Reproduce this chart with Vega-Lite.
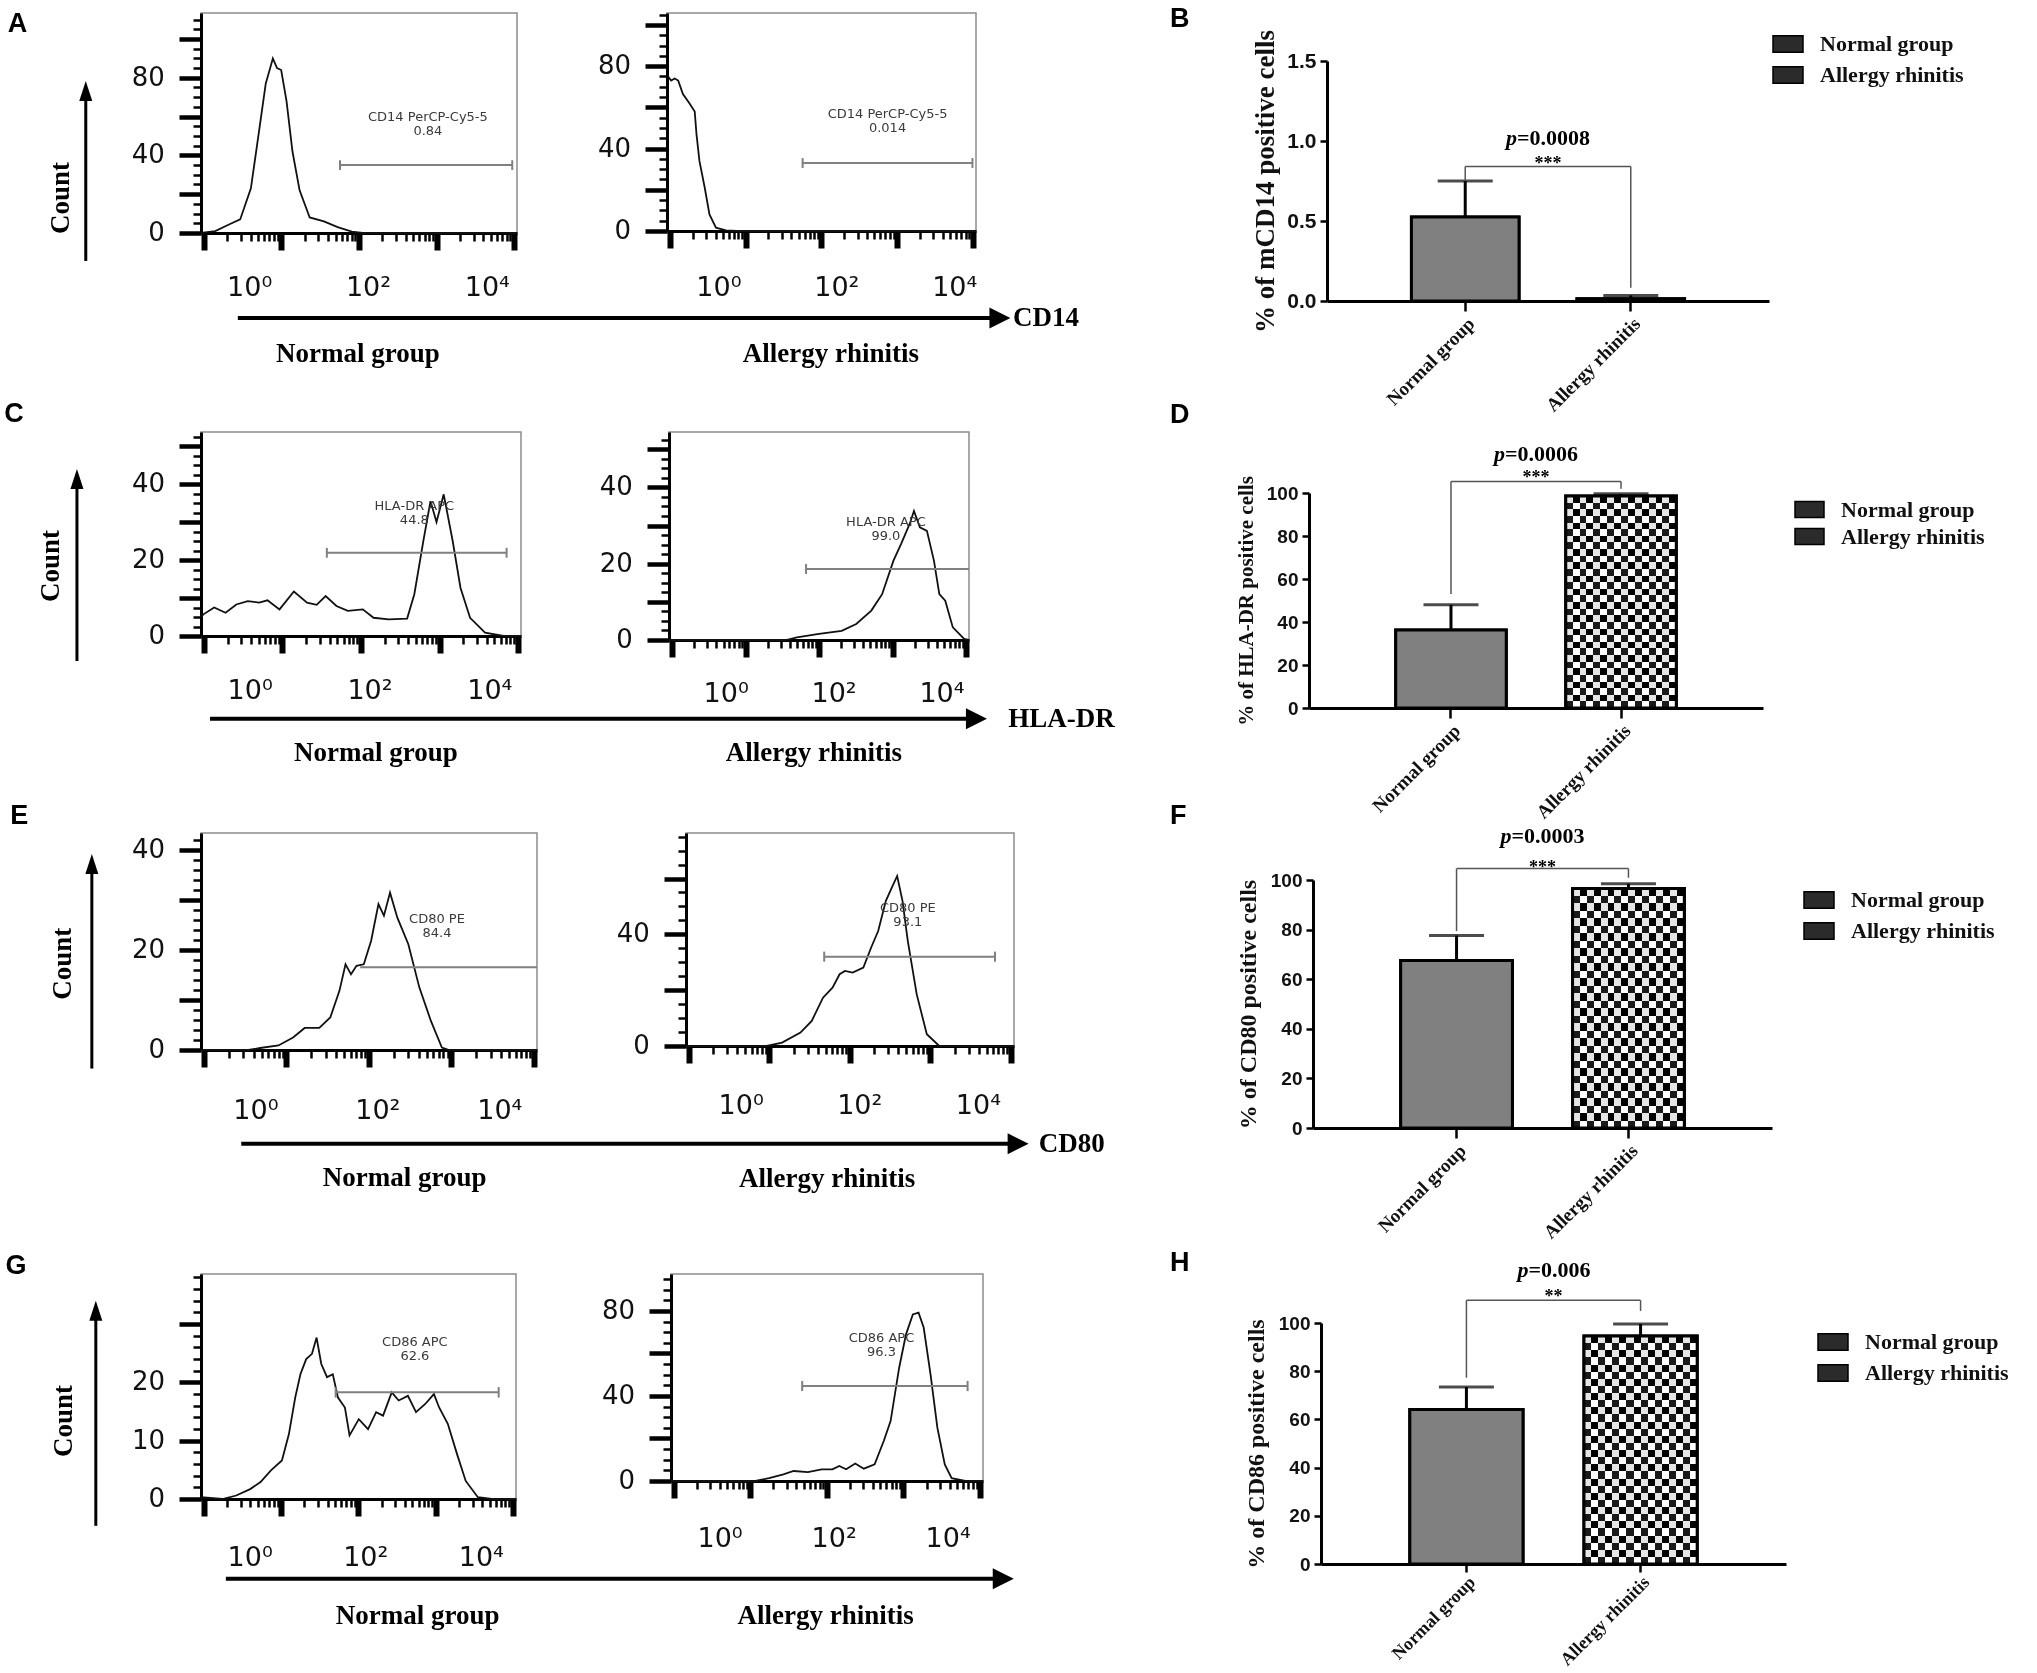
{
  "$schema": "https://vega.github.io/schema/vega-lite/v6.json",
  "background": "white",
  "padding": {"left": 3, "top": 5, "right": 5, "bottom": 0},
  "config": {"view": {"stroke": null}},
  "bounds": "flush",
  "spacing": 419,
  "resolve": {"scale": {"fill": "independent"}, "legend": {"fill": "independent"}},
  "vconcat": [
    {
      "hconcat": [
        {
          "width": 316, "height": 220,
          "view": {"stroke": "#8c8c8c", "strokeWidth": 1.5},
          "layer": [
            {
              "data": {"values": [
                {"u": -0.82, "c": 0}, {"u": -0.58, "c": 1}, {"u": -0.34, "c": 4.5}, {"u": -0.16, "c": 7},
                {"u": 0.02, "c": 23}, {"u": 0.15, "c": 51}, {"u": 0.27, "c": 77}, {"u": 0.39, "c": 90},
                {"u": 0.46, "c": 85}, {"u": 0.53, "c": 84}, {"u": 0.62, "c": 68}, {"u": 0.72, "c": 42},
                {"u": 0.84, "c": 22}, {"u": 1.01, "c": 8}, {"u": 1.25, "c": 6}, {"u": 1.48, "c": 3},
                {"u": 1.72, "c": 0.7}, {"u": 1.9, "c": 0}, {"u": 4.5, "c": 0}
              ]},
              "mark": {"type": "line", "color": "#111111", "strokeWidth": 1.8},
              "encoding": {
                "x": {"field": "u", "type": "quantitative", "scale": {"domain": [-0.82, 4.5], "nice": false, "zero": false},
                  "axis": {"values": [-0.77,-0.377,-0.147,0.016,0.142,0.245,0.333,0.409,0.475,0.535,0.928,1.158,1.321,1.447,1.55,1.638,1.714,1.78,1.84,2.233,2.463,2.626,2.752,2.855,2.943,3.019,3.085,3.145,3.538,3.768,3.931,4.057,4.16,4.248,4.324,4.39,4.45],
                    "tickCount": 500, "labels": false, "title": null, "grid": false, "domainColor": "#000", "domainWidth": 3, "tickColor": "#000",
                    "tickSize": {"condition": {"test": "indexof([-0.77,0.535,1.84,3.145,4.45], datum.value) >= 0", "value": 17}, "value": 8},
                    "tickWidth": {"condition": {"test": "indexof([-0.77,0.535,1.84,3.145,4.45], datum.value) >= 0", "value": 6}, "value": 2.5}}},
                "y": {"field": "c", "type": "quantitative", "scale": {"domain": [0, 113.4], "nice": false},
                  "axis": {"values": [0,5,10,15,20,25,30,35,40,45,50,55,60,65,70,75,80,85,90,95,100,105,110],
                    "tickCount": 500, "labels": false, "title": null, "grid": false, "domainColor": "#000", "domainWidth": 3, "tickColor": "#000",
                    "tickSize": {"condition": {"test": "datum.value % 20 === 0", "value": 22}, "value": 8},
                    "tickWidth": {"condition": {"test": "datum.value % 20 === 0", "value": 4.5}, "value": 2.5}}}
              }
            },
            {"data": {"values": [{}]}, "mark": {"type": "text", "font": "DejaVu Sans", "fontSize": 27, "color": "#111", "baseline": "middle"}, "encoding": {"x": {"datum": 0}, "y": {"datum": -28.4}, "text": {"value": "10\u2070"}}},
            {"data": {"values": [{}]}, "mark": {"type": "text", "font": "DejaVu Sans", "fontSize": 27, "color": "#111", "baseline": "middle"}, "encoding": {"x": {"datum": 2}, "y": {"datum": -28.4}, "text": {"value": "10\u00b2"}}},
            {"data": {"values": [{}]}, "mark": {"type": "text", "font": "DejaVu Sans", "fontSize": 27, "color": "#111", "baseline": "middle"}, "encoding": {"x": {"datum": 4}, "y": {"datum": -28.4}, "text": {"value": "10\u2074"}}},
            {"data": {"values": [{}]}, "mark": {"type": "text", "font": "DejaVu Sans", "fontSize": 26, "color": "#111", "align": "right", "baseline": "middle"}, "encoding": {"x": {"datum": -1.43}, "y": {"datum": 0}, "text": {"value": "0"}}},
            {"data": {"values": [{}]}, "mark": {"type": "text", "font": "DejaVu Sans", "fontSize": 26, "color": "#111", "align": "right", "baseline": "middle"}, "encoding": {"x": {"datum": -1.43}, "y": {"datum": 40}, "text": {"value": "40"}}},
            {"data": {"values": [{}]}, "mark": {"type": "text", "font": "DejaVu Sans", "fontSize": 26, "color": "#111", "align": "right", "baseline": "middle"}, "encoding": {"x": {"datum": -1.43}, "y": {"datum": 80}, "text": {"value": "80"}}},
            {"data": {"values": [{}]}, "mark": {"type": "rule", "color": "#808080", "strokeWidth": 2}, "encoding": {"x": {"datum": 1.52}, "x2": {"datum": 4.42}, "y": {"datum": 35}}},
            {"data": {"values": [{}]}, "mark": {"type": "rule", "color": "#808080", "strokeWidth": 2}, "encoding": {"x": {"datum": 1.52}, "y": {"datum": 32.5}, "y2": {"datum": 37.5}}},
            {"data": {"values": [{}]}, "mark": {"type": "rule", "color": "#808080", "strokeWidth": 2}, "encoding": {"x": {"datum": 4.42}, "y": {"datum": 32.5}, "y2": {"datum": 37.5}}},
            {"data": {"values": [{}]}, "mark": {"type": "text", "font": "DejaVu Sans", "fontSize": 13, "color": "#3a3a3a", "lineHeight": 14, "baseline": "middle"}, "encoding": {"x": {"datum": 3.0}, "y": {"datum": 60}, "text": {"value": ["CD14 PerCP-Cy5-5", "0.84"]}}},
            {"data": {"values": [{}]}, "mark": {"type": "text", "font": "Liberation Sans", "fontSize": 27, "fontWeight": "bold", "baseline": "middle"}, "encoding": {"x": {"datum": -3.91}, "y": {"datum": 107.8}, "text": {"value": "A"}}},
            {"data": {"values": [{}]}, "mark": {"type": "rule", "color": "#000", "strokeWidth": 3}, "encoding": {"x": {"datum": -2.76}, "y": {"datum": -14.4}, "y2": {"datum": 73.2}}},
            {"data": {"values": [{}]}, "mark": {"type": "point", "shape": "M0,-1L0.65,1L-0.65,1Z", "size": 400, "filled": true, "color": "#000", "opacity": 1}, "encoding": {"x": {"datum": -2.76}, "y": {"datum": 73.2}}},
            {"data": {"values": [{}]}, "mark": {"type": "text", "font": "Liberation Serif", "fontSize": 27, "fontWeight": "bold", "angle": 270, "baseline": "middle"}, "encoding": {"x": {"datum": -3.18}, "y": {"datum": 18}, "text": {"value": "Count"}}},
            {"data": {"values": [{}]}, "mark": {"type": "rule", "color": "#000", "strokeWidth": 4}, "encoding": {"x": {"datum": -0.2}, "x2": {"datum": 12.63}, "y": {"datum": -43.8}}},
            {"data": {"values": [{}]}, "mark": {"type": "point", "shape": "M1,0L-1,-1L-1,1Z", "size": 441, "filled": true, "color": "#000", "opacity": 1}, "encoding": {"x": {"datum": 12.63}, "y": {"datum": -43.8}}},
            {"data": {"values": [{}]}, "mark": {"type": "text", "font": "Liberation Serif", "fontSize": 27, "fontWeight": "bold", "align": "left", "baseline": "middle"}, "encoding": {"x": {"datum": 12.85}, "y": {"datum": -43.8}, "text": {"value": "CD14"}}},
            {"data": {"values": [{}]}, "mark": {"type": "text", "font": "Liberation Serif", "fontSize": 27, "fontWeight": "bold", "baseline": "middle"}, "encoding": {"x": {"datum": 1.82}, "y": {"datum": -62.4}, "text": {"value": "Normal group"}}}
          ]
        },
        {
          "hconcat": [
            {
              "width": 309, "height": 218,
              "view": {"stroke": "#8c8c8c", "strokeWidth": 1.5},
              "layer": [
                {
                  "data": {"values": [
                    {"u": -0.86, "c": 75}, {"u": -0.81, "c": 73}, {"u": -0.75, "c": 74}, {"u": -0.69, "c": 73},
                    {"u": -0.61, "c": 66.5}, {"u": -0.5, "c": 62}, {"u": -0.41, "c": 58}, {"u": -0.38, "c": 47},
                    {"u": -0.33, "c": 34}, {"u": -0.24, "c": 21}, {"u": -0.16, "c": 8}, {"u": -0.05, "c": 1.6},
                    {"u": 0.12, "c": 0.3}, {"u": 0.3, "c": 0}, {"u": 4.36, "c": 0}
                  ]},
                  "mark": {"type": "line", "color": "#111111", "strokeWidth": 1.8},
                  "encoding": {
                    "x": {"field": "u", "type": "quantitative", "scale": {"domain": [-0.88, 4.36], "nice": false, "zero": false},
                      "axis": {"values": [-0.83,-0.443,-0.217,-0.057,0.067,0.169,0.255,0.33,0.395,0.454,0.841,1.067,1.227,1.351,1.453,1.539,1.614,1.679,1.738,2.125,2.351,2.511,2.635,2.737,2.823,2.898,2.963,3.022,3.409,3.635,3.795,3.919,4.021,4.107,4.182,4.247,4.306],
                        "tickCount": 500, "labels": false, "title": null, "grid": false, "domainColor": "#000", "domainWidth": 3, "tickColor": "#000",
                        "tickSize": {"condition": {"test": "indexof([-0.83,0.454,1.738,3.022,4.306], datum.value) >= 0", "value": 17}, "value": 8},
                        "tickWidth": {"condition": {"test": "indexof([-0.83,0.454,1.738,3.022,4.306], datum.value) >= 0", "value": 6}, "value": 2.5}}},
                    "y": {"field": "c", "type": "quantitative", "scale": {"domain": [0, 105.8], "nice": false},
                      "axis": {"values": [0,5,10,15,20,25,30,35,40,45,50,55,60,65,70,75,80,85,90,95,100,105],
                        "tickCount": 500, "labels": false, "title": null, "grid": false, "domainColor": "#000", "domainWidth": 3, "tickColor": "#000",
                        "tickSize": {"condition": {"test": "datum.value % 20 === 0", "value": 22}, "value": 8},
                        "tickWidth": {"condition": {"test": "datum.value % 20 === 0", "value": 4.5}, "value": 2.5}}}
                  }
                },
                {"data": {"values": [{}]}, "mark": {"type": "text", "font": "DejaVu Sans", "fontSize": 27, "color": "#111", "baseline": "middle"}, "encoding": {"x": {"datum": 0}, "y": {"datum": -27.7}, "text": {"value": "10\u2070"}}},
                {"data": {"values": [{}]}, "mark": {"type": "text", "font": "DejaVu Sans", "fontSize": 27, "color": "#111", "baseline": "middle"}, "encoding": {"x": {"datum": 2}, "y": {"datum": -27.7}, "text": {"value": "10\u00b2"}}},
                {"data": {"values": [{}]}, "mark": {"type": "text", "font": "DejaVu Sans", "fontSize": 27, "color": "#111", "baseline": "middle"}, "encoding": {"x": {"datum": 4}, "y": {"datum": -27.7}, "text": {"value": "10\u2074"}}},
                {"data": {"values": [{}]}, "mark": {"type": "text", "font": "DejaVu Sans", "fontSize": 26, "color": "#111", "align": "right", "baseline": "middle"}, "encoding": {"x": {"datum": -1.49}, "y": {"datum": 0}, "text": {"value": "0"}}},
                {"data": {"values": [{}]}, "mark": {"type": "text", "font": "DejaVu Sans", "fontSize": 26, "color": "#111", "align": "right", "baseline": "middle"}, "encoding": {"x": {"datum": -1.49}, "y": {"datum": 40}, "text": {"value": "40"}}},
                {"data": {"values": [{}]}, "mark": {"type": "text", "font": "DejaVu Sans", "fontSize": 26, "color": "#111", "align": "right", "baseline": "middle"}, "encoding": {"x": {"datum": -1.49}, "y": {"datum": 80}, "text": {"value": "80"}}},
                {"data": {"values": [{}]}, "mark": {"type": "rule", "color": "#808080", "strokeWidth": 2}, "encoding": {"x": {"datum": 1.42}, "x2": {"datum": 4.3}, "y": {"datum": 33}}},
                {"data": {"values": [{}]}, "mark": {"type": "rule", "color": "#808080", "strokeWidth": 2}, "encoding": {"x": {"datum": 1.42}, "y": {"datum": 30.6}, "y2": {"datum": 35.4}}},
                {"data": {"values": [{}]}, "mark": {"type": "rule", "color": "#808080", "strokeWidth": 2}, "encoding": {"x": {"datum": 4.3}, "y": {"datum": 30.6}, "y2": {"datum": 35.4}}},
                {"data": {"values": [{}]}, "mark": {"type": "text", "font": "DejaVu Sans", "fontSize": 13, "color": "#3a3a3a", "lineHeight": 14, "baseline": "middle"}, "encoding": {"x": {"datum": 2.86}, "y": {"datum": 57}, "text": {"value": ["CD14 PerCP-Cy5-5", "0.014"]}}},
                {"data": {"values": [{}]}, "mark": {"type": "text", "font": "Liberation Serif", "fontSize": 27, "fontWeight": "bold", "baseline": "middle"}, "encoding": {"x": {"datum": 1.9}, "y": {"datum": -59.7}, "text": {"value": "Allergy rhinitis"}}}
              ]
            },
            {
              "width": 442, "height": 288,
              "title": {"text": "B", "anchor": "start", "frame": "group", "dx": -157, "offset": -20, "font": "Liberation Sans", "fontSize": 27, "fontWeight": "bold", "color": "#000"},
              "data": {"values": [{"group": "Normal group", "mean": 0.525, "upper": 0.75}, {"group": "Allergy rhinitis", "mean": 0.014, "upper": 0.035}]},
              "encoding": {"x": {"field": "group", "type": "nominal", "sort": null, "scale": {"paddingInner": 0.35, "paddingOuter": 0.51},
                "axis": {"title": null, "labelAngle": -45, "labelFont": "Liberation Serif", "labelFontWeight": "bold", "labelFontSize": 19, "labelColor": "#111", "labelPadding": 3, "domainColor": "#000", "domainWidth": 3, "tickColor": "#000", "tickWidth": 2.5, "tickSize": 10}}},
              "layer": [
                {"mark": {"type": "rule", "color": "#000", "strokeWidth": 3},
                 "encoding": {"y": {"field": "mean", "type": "quantitative", "scale": {"domain": [0, 1.5], "range": [288, 48], "nice": false},
                   "axis": {"values": [0, 0.5, 1, 1.5], "format": ".1f", "title": "% of mCD14 positive cells", "titleFont": "Liberation Serif", "titleFontSize": 27, "titleFontWeight": "bold", "titleColor": "#111", "titlePadding": 7,
                     "labelFont": "Liberation Sans", "labelFontWeight": "bold", "labelFontSize": 21, "labelColor": "#111", "labelPadding": 4, "tickColor": "#000", "tickWidth": 2.5, "tickSize": 7, "domainColor": "#000", "domainWidth": 3, "grid": false}},
                   "y2": {"field": "upper"}}},
                {"mark": {"type": "tick", "color": "#000", "thickness": 3, "size": 55}, "encoding": {"y": {"field": "upper", "type": "quantitative"}}},
                {"mark": {"type": "bar", "stroke": "#000", "strokeWidth": 3},
                 "encoding": {"y": {"field": "mean", "type": "quantitative"},
                   "fill": {"field": "group", "type": "nominal", "scale": {"domain": ["Normal group", "Allergy rhinitis"], "range": ["#2b2b2b", "#2b2b2b"]},
                     "legend": {"orient": "none", "legendX": 445, "legendY": 15, "title": null, "padding": 0, "symbolType": "M-1,-0.55H1V0.55H-1Z", "symbolSize": 900, "symbolOpacity": 1, "symbolStrokeColor": "#000", "symbolStrokeWidth": 1.5, "rowPadding": 3, "labelOffset": 16,
                       "labelFont": "Liberation Serif", "labelFontWeight": "bold", "labelFontSize": 22, "labelColor": "#111"}}}},
                {"transform": [{"filter": "datum.group === 'Normal group'"}], "mark": {"type": "bar", "fill": "#808080", "strokeWidth": 0}, "encoding": {"y": {"field": "mean", "type": "quantitative"}}},
                {"mark": {"type": "bar", "fill": "transparent", "stroke": "#000", "strokeWidth": 3}, "encoding": {"y": {"field": "mean", "type": "quantitative"}}},
                {"data": {"values": [{}]}, "mark": {"type": "rule", "color": "#555", "strokeWidth": 1.5}, "encoding": {"x": {"datum": "Normal group"}, "x2": {"datum": "Allergy rhinitis"}, "y": {"datum": 0.84}}},
                {"data": {"values": [{}]}, "mark": {"type": "rule", "color": "#555", "strokeWidth": 1.5}, "encoding": {"x": {"datum": "Normal group"}, "y": {"datum": 0.84}, "y2": {"datum": 0.75}}},
                {"data": {"values": [{}]}, "mark": {"type": "rule", "color": "#555", "strokeWidth": 1.5}, "encoding": {"x": {"datum": "Allergy rhinitis"}, "y": {"datum": 0.84}, "y2": {"datum": 0.083}}},
                {"data": {"values": [{}]}, "mark": {"type": "text", "font": "Liberation Serif", "fontSize": 18, "fontWeight": "bold", "baseline": "middle", "dy": 4}, "encoding": {"x": {"datum": "Normal group", "bandPosition": 1.27}, "y": {"datum": 0.88}, "text": {"value": "***"}}},
                {"data": {"values": [{}]}, "mark": {"type": "text", "font": "Liberation Serif", "fontSize": 22, "fontWeight": "bold", "fontStyle": "italic", "align": "left", "baseline": "middle", "dx": -42}, "encoding": {"x": {"datum": "Normal group", "bandPosition": 1.27}, "y": {"datum": 1.02}, "text": {"value": "p"}}},
                {"data": {"values": [{}]}, "mark": {"type": "text", "font": "Liberation Serif", "fontSize": 22, "fontWeight": "bold", "align": "left", "baseline": "middle", "dx": -31}, "encoding": {"x": {"datum": "Normal group", "bandPosition": 1.27}, "y": {"datum": 1.02}, "text": {"value": "=0.0008"}}}
              ]
            }
          ],
          "spacing": 351, "bounds": "flush",
          "resolve": {"scale": {"fill": "independent"}, "legend": {"fill": "independent"}}
        }
      ],
      "spacing": 150, "bounds": "flush",
      "resolve": {"scale": {"fill": "independent"}, "legend": {"fill": "independent"}}
    },
    {
      "vconcat": [
        {
          "hconcat": [
            {
              "width": 320, "height": 204,
              "view": {"stroke": "#8c8c8c", "strokeWidth": 1.5},
              "layer": [
                {
                  "data": {"values": [
                    {"u": -0.82, "c": 5}, {"u": -0.78, "c": 5.7}, {"u": -0.6, "c": 7.5}, {"u": -0.41, "c": 6.1},
                    {"u": -0.23, "c": 8.3}, {"u": -0.04, "c": 9.2}, {"u": 0.15, "c": 8.8}, {"u": 0.29, "c": 9.4},
                    {"u": 0.49, "c": 7}, {"u": 0.73, "c": 11.7}, {"u": 0.95, "c": 8.8}, {"u": 1.11, "c": 8.2},
                    {"u": 1.26, "c": 10.5}, {"u": 1.44, "c": 7.9}, {"u": 1.63, "c": 6.6}, {"u": 1.88, "c": 7},
                    {"u": 2.06, "c": 4.8}, {"u": 2.31, "c": 4.4}, {"u": 2.62, "c": 4.6}, {"u": 2.74, "c": 11},
                    {"u": 2.89, "c": 25}, {"u": 3.01, "c": 35.5}, {"u": 3.11, "c": 30}, {"u": 3.23, "c": 37.3},
                    {"u": 3.38, "c": 25}, {"u": 3.51, "c": 12.7}, {"u": 3.67, "c": 4.8}, {"u": 3.92, "c": 0.9},
                    {"u": 4.23, "c": 0}, {"u": 4.52, "c": 0}
                  ]},
                  "mark": {"type": "line", "color": "#111111", "strokeWidth": 1.8},
                  "encoding": {
                    "x": {"field": "u", "type": "quantitative", "scale": {"domain": [-0.82, 4.52], "nice": false, "zero": false},
                      "axis": {"values": [-0.77,-0.376,-0.145,0.019,0.146,0.249,0.337,0.413,0.48,0.54,0.934,1.165,1.329,1.456,1.559,1.647,1.723,1.79,1.85,2.244,2.475,2.639,2.766,2.869,2.957,3.033,3.1,3.16,3.554,3.785,3.949,4.076,4.179,4.267,4.343,4.41,4.47],
                        "tickCount": 500, "labels": false, "title": null, "grid": false, "domainColor": "#000", "domainWidth": 3, "tickColor": "#000",
                        "tickSize": {"condition": {"test": "indexof([-0.77,0.54,1.85,3.16,4.47], datum.value) >= 0", "value": 17}, "value": 8},
                        "tickWidth": {"condition": {"test": "indexof([-0.77,0.54,1.85,3.16,4.47], datum.value) >= 0", "value": 6}, "value": 2.5}}},
                    "y": {"field": "c", "type": "quantitative", "scale": {"domain": [0, 53.7], "nice": false},
                      "axis": {"values": [0,2.5,5,7.5,10,12.5,15,17.5,20,22.5,25,27.5,30,32.5,35,37.5,40,42.5,45,47.5,50,52.5],
                        "tickCount": 500, "labels": false, "title": null, "grid": false, "domainColor": "#000", "domainWidth": 3, "tickColor": "#000",
                        "tickSize": {"condition": {"test": "datum.value % 10 === 0", "value": 22}, "value": 8},
                        "tickWidth": {"condition": {"test": "datum.value % 10 === 0", "value": 4.5}, "value": 2.5}}}
                  }
                },
                {"data": {"values": [{}]}, "mark": {"type": "text", "font": "DejaVu Sans", "fontSize": 27, "color": "#111", "baseline": "middle"}, "encoding": {"x": {"datum": 0}, "y": {"datum": -14.5}, "text": {"value": "10\u2070"}}},
                {"data": {"values": [{}]}, "mark": {"type": "text", "font": "DejaVu Sans", "fontSize": 27, "color": "#111", "baseline": "middle"}, "encoding": {"x": {"datum": 2}, "y": {"datum": -14.5}, "text": {"value": "10\u00b2"}}},
                {"data": {"values": [{}]}, "mark": {"type": "text", "font": "DejaVu Sans", "fontSize": 27, "color": "#111", "baseline": "middle"}, "encoding": {"x": {"datum": 4}, "y": {"datum": -14.5}, "text": {"value": "10\u2074"}}},
                {"data": {"values": [{}]}, "mark": {"type": "text", "font": "DejaVu Sans", "fontSize": 26, "color": "#111", "align": "right", "baseline": "middle"}, "encoding": {"x": {"datum": -1.42}, "y": {"datum": 0}, "text": {"value": "0"}}},
                {"data": {"values": [{}]}, "mark": {"type": "text", "font": "DejaVu Sans", "fontSize": 26, "color": "#111", "align": "right", "baseline": "middle"}, "encoding": {"x": {"datum": -1.42}, "y": {"datum": 20}, "text": {"value": "20"}}},
                {"data": {"values": [{}]}, "mark": {"type": "text", "font": "DejaVu Sans", "fontSize": 26, "color": "#111", "align": "right", "baseline": "middle"}, "encoding": {"x": {"datum": -1.42}, "y": {"datum": 40}, "text": {"value": "40"}}},
                {"data": {"values": [{}]}, "mark": {"type": "rule", "color": "#808080", "strokeWidth": 2}, "encoding": {"x": {"datum": 1.28}, "x2": {"datum": 4.28}, "y": {"datum": 21.9}}},
                {"data": {"values": [{}]}, "mark": {"type": "rule", "color": "#808080", "strokeWidth": 2}, "encoding": {"x": {"datum": 1.28}, "y": {"datum": 20.6}, "y2": {"datum": 23.2}}},
                {"data": {"values": [{}]}, "mark": {"type": "rule", "color": "#808080", "strokeWidth": 2}, "encoding": {"x": {"datum": 4.28}, "y": {"datum": 20.6}, "y2": {"datum": 23.2}}},
                {"data": {"values": [{}]}, "mark": {"type": "text", "font": "DejaVu Sans", "fontSize": 13, "color": "#3a3a3a", "lineHeight": 14, "baseline": "middle"}, "encoding": {"x": {"datum": 2.74}, "y": {"datum": 34.2}, "text": {"value": ["HLA-DR APC", "44.8"]}}},
                {"data": {"values": [{}]}, "mark": {"type": "text", "font": "Liberation Sans", "fontSize": 27, "fontWeight": "bold", "baseline": "middle"}, "encoding": {"x": {"datum": -3.94}, "y": {"datum": 58.4}, "text": {"value": "C"}}},
                {"data": {"values": [{}]}, "mark": {"type": "rule", "color": "#000", "strokeWidth": 3}, "encoding": {"x": {"datum": -2.89}, "y": {"datum": -6.6}, "y2": {"datum": 41.3}}},
                {"data": {"values": [{}]}, "mark": {"type": "point", "shape": "M0,-1L0.65,1L-0.65,1Z", "size": 400, "filled": true, "color": "#000", "opacity": 1}, "encoding": {"x": {"datum": -2.89}, "y": {"datum": 41.3}}},
                {"data": {"values": [{}]}, "mark": {"type": "text", "font": "Liberation Serif", "fontSize": 27, "fontWeight": "bold", "angle": 270, "baseline": "middle"}, "encoding": {"x": {"datum": -3.32}, "y": {"datum": 18.4}, "text": {"value": "Count"}}},
                {"data": {"values": [{}]}, "mark": {"type": "rule", "color": "#000", "strokeWidth": 4}, "encoding": {"x": {"datum": -0.67}, "x2": {"datum": 12.12}, "y": {"datum": -21.8}}},
                {"data": {"values": [{}]}, "mark": {"type": "point", "shape": "M1,0L-1,-1L-1,1Z", "size": 441, "filled": true, "color": "#000", "opacity": 1}, "encoding": {"x": {"datum": 12.12}, "y": {"datum": -21.8}}},
                {"data": {"values": [{}]}, "mark": {"type": "text", "font": "Liberation Serif", "fontSize": 27, "fontWeight": "bold", "align": "left", "baseline": "middle"}, "encoding": {"x": {"datum": 12.65}, "y": {"datum": -21.8}, "text": {"value": "HLA-DR"}}},
                {"data": {"values": [{}]}, "mark": {"type": "text", "font": "Liberation Serif", "fontSize": 27, "fontWeight": "bold", "baseline": "middle"}, "encoding": {"x": {"datum": 2.1}, "y": {"datum": -30.8}, "text": {"value": "Normal group"}}}
              ]
            },
            {
              "hconcat": [
                {
                  "width": 300, "height": 208,
                  "view": {"stroke": "#8c8c8c", "strokeWidth": 1.5},
                  "layer": [
                    {
                      "data": {"values": [
                        {"u": -1.06, "c": 0}, {"u": 1.11, "c": 0}, {"u": 1.31, "c": 0.7}, {"u": 1.72, "c": 1.6},
                        {"u": 2.14, "c": 2.4}, {"u": 2.41, "c": 4.2}, {"u": 2.69, "c": 7.7}, {"u": 2.89, "c": 12},
                        {"u": 3.1, "c": 20.8}, {"u": 3.24, "c": 25.1}, {"u": 3.4, "c": 30.4}, {"u": 3.48, "c": 33.8},
                        {"u": 3.59, "c": 29.5}, {"u": 3.72, "c": 28.6}, {"u": 3.85, "c": 20.8}, {"u": 3.95, "c": 12},
                        {"u": 4.06, "c": 10.3}, {"u": 4.2, "c": 3.3}, {"u": 4.41, "c": 0.3}, {"u": 4.5, "c": 0}
                      ]},
                      "mark": {"type": "line", "color": "#111111", "strokeWidth": 1.8},
                      "encoding": {
                        "x": {"field": "u", "type": "quantitative", "scale": {"domain": [-1.06, 4.5], "nice": false, "zero": false},
                          "axis": {"values": [-1,-0.59,-0.351,-0.181,-0.049,0.059,0.15,0.229,0.299,0.361,0.771,1.01,1.18,1.312,1.42,1.511,1.59,1.66,1.722,2.132,2.371,2.541,2.673,2.781,2.872,2.951,3.021,3.083,3.493,3.732,3.902,4.034,4.142,4.233,4.312,4.382,4.444],
                            "tickCount": 500, "labels": false, "title": null, "grid": false, "domainColor": "#000", "domainWidth": 3, "tickColor": "#000",
                            "tickSize": {"condition": {"test": "indexof([-1,0.361,1.722,3.083,4.444], datum.value) >= 0", "value": 17}, "value": 8},
                            "tickWidth": {"condition": {"test": "indexof([-1,0.361,1.722,3.083,4.444], datum.value) >= 0", "value": 6}, "value": 2.5}}},
                        "y": {"field": "c", "type": "quantitative", "scale": {"domain": [0, 54.5], "nice": false},
                          "axis": {"values": [0,2.5,5,7.5,10,12.5,15,17.5,20,22.5,25,27.5,30,32.5,35,37.5,40,42.5,45,47.5,50,52.5],
                            "tickCount": 500, "labels": false, "title": null, "grid": false, "domainColor": "#000", "domainWidth": 3, "tickColor": "#000",
                            "tickSize": {"condition": {"test": "datum.value % 10 === 0", "value": 22}, "value": 8},
                            "tickWidth": {"condition": {"test": "datum.value % 10 === 0", "value": 4.5}, "value": 2.5}}}
                      }
                    },
                    {"data": {"values": [{}]}, "mark": {"type": "text", "font": "DejaVu Sans", "fontSize": 27, "color": "#111", "baseline": "middle"}, "encoding": {"x": {"datum": 0}, "y": {"datum": -14.1}, "text": {"value": "10\u2070"}}},
                    {"data": {"values": [{}]}, "mark": {"type": "text", "font": "DejaVu Sans", "fontSize": 27, "color": "#111", "baseline": "middle"}, "encoding": {"x": {"datum": 2}, "y": {"datum": -14.1}, "text": {"value": "10\u00b2"}}},
                    {"data": {"values": [{}]}, "mark": {"type": "text", "font": "DejaVu Sans", "fontSize": 27, "color": "#111", "baseline": "middle"}, "encoding": {"x": {"datum": 4}, "y": {"datum": -14.1}, "text": {"value": "10\u2074"}}},
                    {"data": {"values": [{}]}, "mark": {"type": "text", "font": "DejaVu Sans", "fontSize": 26, "color": "#111", "align": "right", "baseline": "middle"}, "encoding": {"x": {"datum": -1.73}, "y": {"datum": 0}, "text": {"value": "0"}}},
                    {"data": {"values": [{}]}, "mark": {"type": "text", "font": "DejaVu Sans", "fontSize": 26, "color": "#111", "align": "right", "baseline": "middle"}, "encoding": {"x": {"datum": -1.73}, "y": {"datum": 20}, "text": {"value": "20"}}},
                    {"data": {"values": [{}]}, "mark": {"type": "text", "font": "DejaVu Sans", "fontSize": 26, "color": "#111", "align": "right", "baseline": "middle"}, "encoding": {"x": {"datum": -1.73}, "y": {"datum": 40}, "text": {"value": "40"}}},
                    {"data": {"values": [{}]}, "mark": {"type": "rule", "color": "#808080", "strokeWidth": 2}, "encoding": {"x": {"datum": 1.48}, "x2": {"datum": 4.5}, "y": {"datum": 18.6}}},
                    {"data": {"values": [{}]}, "mark": {"type": "rule", "color": "#808080", "strokeWidth": 2}, "encoding": {"x": {"datum": 1.48}, "y": {"datum": 17.3}, "y2": {"datum": 19.9}}},
                    {"data": {"values": [{}]}, "mark": {"type": "text", "font": "DejaVu Sans", "fontSize": 13, "color": "#3a3a3a", "lineHeight": 14, "baseline": "middle"}, "encoding": {"x": {"datum": 2.96}, "y": {"datum": 30.8}, "text": {"value": ["HLA-DR APC", "99.0"]}}},
                    {"data": {"values": [{}]}, "mark": {"type": "text", "font": "Liberation Serif", "fontSize": 27, "fontWeight": "bold", "baseline": "middle"}, "encoding": {"x": {"datum": 1.625}, "y": {"datum": -29.5}, "text": {"value": "Allergy rhinitis"}}}
                  ]
                },
                {
                  "width": 454, "height": 276,
                  "title": {"text": "D", "anchor": "start", "frame": "group", "dx": -139, "offset": 3, "font": "Liberation Sans", "fontSize": 27, "fontWeight": "bold", "color": "#000"},
                  "data": {"values": [{"group": "Normal group", "mean": 36.3, "upper": 48}, {"group": "Allergy rhinitis", "mean": 98.6, "upper": 99.6}]},
                  "encoding": {"x": {"field": "group", "type": "nominal", "sort": null, "scale": {"paddingInner": 0.35, "paddingOuter": 0.51},
                    "axis": {"title": null, "labelAngle": -45, "labelFont": "Liberation Serif", "labelFontWeight": "bold", "labelFontSize": 19, "labelColor": "#111", "labelPadding": 3, "domainColor": "#000", "domainWidth": 3, "tickColor": "#000", "tickWidth": 2.5, "tickSize": 10}}},
                  "layer": [
                    {"mark": {"type": "rule", "color": "#000", "strokeWidth": 3},
                     "encoding": {"y": {"field": "mean", "type": "quantitative", "scale": {"domain": [0, 100], "range": [276, 61], "nice": false},
                       "axis": {"values": [0, 20, 40, 60, 80, 100], "title": "% of HLA-DR positive cells", "titleFont": "Liberation Serif", "titleFontSize": 21, "titleFontWeight": "bold", "titleColor": "#111", "titlePadding": 10,
                         "labelFont": "Liberation Sans", "labelFontWeight": "bold", "labelFontSize": 19, "labelColor": "#111", "labelPadding": 4, "tickColor": "#000", "tickWidth": 2.5, "tickSize": 7, "domainColor": "#000", "domainWidth": 3, "grid": false}},
                       "y2": {"field": "upper"}}},
                    {"mark": {"type": "tick", "color": "#000", "thickness": 3, "size": 55}, "encoding": {"y": {"field": "upper", "type": "quantitative"}}},
                    {"mark": {"type": "bar", "stroke": "#000", "strokeWidth": 3},
                     "encoding": {"y": {"field": "mean", "type": "quantitative"},
                       "fill": {"field": "group", "type": "nominal", "scale": {"domain": ["Normal group", "Allergy rhinitis"], "range": ["#2b2b2b", "#2b2b2b"]},
                         "legend": {"orient": "none", "legendX": 485, "legendY": 62, "title": null, "padding": 0, "symbolType": "M-1,-0.55H1V0.55H-1Z", "symbolSize": 841, "symbolOpacity": 1, "symbolStrokeColor": "#000", "symbolStrokeWidth": 1.5, "rowPadding": 0, "labelOffset": 16,
                           "labelFont": "Liberation Serif", "labelFontWeight": "bold", "labelFontSize": 22, "labelColor": "#111"}}}},
                    {"transform": [{"filter": "datum.group === 'Normal group'"}], "mark": {"type": "bar", "fill": "#808080", "strokeWidth": 0}, "encoding": {"y": {"field": "mean", "type": "quantitative"}}},
                    {"transform": [{"filter": "datum.group === 'Allergy rhinitis'"}],
                     "mark": {"type": "bar", "strokeWidth": 0, "fill": {"gradient": "linear", "x1": 0, "y1": 0, "x2": 1, "y2": 0, "stops": [
                       {"offset": 0, "color": "#1a1a1a"}, {"offset": 0.0625, "color": "#1a1a1a"}, {"offset": 0.0625, "color": "#ffffff"}, {"offset": 0.125, "color": "#ffffff"},
                       {"offset": 0.125, "color": "#1a1a1a"}, {"offset": 0.1875, "color": "#1a1a1a"}, {"offset": 0.1875, "color": "#ffffff"}, {"offset": 0.25, "color": "#ffffff"},
                       {"offset": 0.25, "color": "#1a1a1a"}, {"offset": 0.3125, "color": "#1a1a1a"}, {"offset": 0.3125, "color": "#ffffff"}, {"offset": 0.375, "color": "#ffffff"},
                       {"offset": 0.375, "color": "#1a1a1a"}, {"offset": 0.4375, "color": "#1a1a1a"}, {"offset": 0.4375, "color": "#ffffff"}, {"offset": 0.5, "color": "#ffffff"},
                       {"offset": 0.5, "color": "#1a1a1a"}, {"offset": 0.5625, "color": "#1a1a1a"}, {"offset": 0.5625, "color": "#ffffff"}, {"offset": 0.625, "color": "#ffffff"},
                       {"offset": 0.625, "color": "#1a1a1a"}, {"offset": 0.6875, "color": "#1a1a1a"}, {"offset": 0.6875, "color": "#ffffff"}, {"offset": 0.75, "color": "#ffffff"},
                       {"offset": 0.75, "color": "#1a1a1a"}, {"offset": 0.8125, "color": "#1a1a1a"}, {"offset": 0.8125, "color": "#ffffff"}, {"offset": 0.875, "color": "#ffffff"},
                       {"offset": 0.875, "color": "#1a1a1a"}, {"offset": 0.9375, "color": "#1a1a1a"}, {"offset": 0.9375, "color": "#ffffff"}, {"offset": 1, "color": "#ffffff"}]}},
                     "encoding": {"y": {"field": "mean", "type": "quantitative"}}},
                    {"transform": [{"filter": "datum.group === 'Allergy rhinitis'"}],
                     "mark": {"type": "bar", "strokeWidth": 0, "blend": "difference", "fill": {"gradient": "linear", "x1": 0, "y1": 0, "x2": 0, "y2": 1, "stops": [
                       {"offset": 0, "color": "#ffffff"}, {"offset": 0.03125, "color": "#ffffff"}, {"offset": 0.03125, "color": "rgba(255,255,255,0)"}, {"offset": 0.0625, "color": "rgba(255,255,255,0)"},
                       {"offset": 0.0625, "color": "#ffffff"}, {"offset": 0.09375, "color": "#ffffff"}, {"offset": 0.09375, "color": "rgba(255,255,255,0)"}, {"offset": 0.125, "color": "rgba(255,255,255,0)"},
                       {"offset": 0.125, "color": "#ffffff"}, {"offset": 0.15625, "color": "#ffffff"}, {"offset": 0.15625, "color": "rgba(255,255,255,0)"}, {"offset": 0.1875, "color": "rgba(255,255,255,0)"},
                       {"offset": 0.1875, "color": "#ffffff"}, {"offset": 0.21875, "color": "#ffffff"}, {"offset": 0.21875, "color": "rgba(255,255,255,0)"}, {"offset": 0.25, "color": "rgba(255,255,255,0)"},
                       {"offset": 0.25, "color": "#ffffff"}, {"offset": 0.28125, "color": "#ffffff"}, {"offset": 0.28125, "color": "rgba(255,255,255,0)"}, {"offset": 0.3125, "color": "rgba(255,255,255,0)"},
                       {"offset": 0.3125, "color": "#ffffff"}, {"offset": 0.34375, "color": "#ffffff"}, {"offset": 0.34375, "color": "rgba(255,255,255,0)"}, {"offset": 0.375, "color": "rgba(255,255,255,0)"},
                       {"offset": 0.375, "color": "#ffffff"}, {"offset": 0.40625, "color": "#ffffff"}, {"offset": 0.40625, "color": "rgba(255,255,255,0)"}, {"offset": 0.4375, "color": "rgba(255,255,255,0)"},
                       {"offset": 0.4375, "color": "#ffffff"}, {"offset": 0.46875, "color": "#ffffff"}, {"offset": 0.46875, "color": "rgba(255,255,255,0)"}, {"offset": 0.5, "color": "rgba(255,255,255,0)"},
                       {"offset": 0.5, "color": "#ffffff"}, {"offset": 0.53125, "color": "#ffffff"}, {"offset": 0.53125, "color": "rgba(255,255,255,0)"}, {"offset": 0.5625, "color": "rgba(255,255,255,0)"},
                       {"offset": 0.5625, "color": "#ffffff"}, {"offset": 0.59375, "color": "#ffffff"}, {"offset": 0.59375, "color": "rgba(255,255,255,0)"}, {"offset": 0.625, "color": "rgba(255,255,255,0)"},
                       {"offset": 0.625, "color": "#ffffff"}, {"offset": 0.65625, "color": "#ffffff"}, {"offset": 0.65625, "color": "rgba(255,255,255,0)"}, {"offset": 0.6875, "color": "rgba(255,255,255,0)"},
                       {"offset": 0.6875, "color": "#ffffff"}, {"offset": 0.71875, "color": "#ffffff"}, {"offset": 0.71875, "color": "rgba(255,255,255,0)"}, {"offset": 0.75, "color": "rgba(255,255,255,0)"},
                       {"offset": 0.75, "color": "#ffffff"}, {"offset": 0.78125, "color": "#ffffff"}, {"offset": 0.78125, "color": "rgba(255,255,255,0)"}, {"offset": 0.8125, "color": "rgba(255,255,255,0)"},
                       {"offset": 0.8125, "color": "#ffffff"}, {"offset": 0.84375, "color": "#ffffff"}, {"offset": 0.84375, "color": "rgba(255,255,255,0)"}, {"offset": 0.875, "color": "rgba(255,255,255,0)"},
                       {"offset": 0.875, "color": "#ffffff"}, {"offset": 0.90625, "color": "#ffffff"}, {"offset": 0.90625, "color": "rgba(255,255,255,0)"}, {"offset": 0.9375, "color": "rgba(255,255,255,0)"},
                       {"offset": 0.9375, "color": "#ffffff"}, {"offset": 0.96875, "color": "#ffffff"}, {"offset": 0.96875, "color": "rgba(255,255,255,0)"}, {"offset": 1, "color": "rgba(255,255,255,0)"}]}},
                     "encoding": {"y": {"field": "mean", "type": "quantitative"}}},
                    {"mark": {"type": "bar", "fill": "transparent", "stroke": "#000", "strokeWidth": 3}, "encoding": {"y": {"field": "mean", "type": "quantitative"}}},
                    {"data": {"values": [{}]}, "mark": {"type": "rule", "color": "#555", "strokeWidth": 1.5}, "encoding": {"x": {"datum": "Normal group"}, "x2": {"datum": "Allergy rhinitis"}, "y": {"datum": 105.4}}},
                    {"data": {"values": [{}]}, "mark": {"type": "rule", "color": "#555", "strokeWidth": 1.5}, "encoding": {"x": {"datum": "Normal group"}, "y": {"datum": 105.4}, "y2": {"datum": 53}}},
                    {"data": {"values": [{}]}, "mark": {"type": "rule", "color": "#555", "strokeWidth": 1.5}, "encoding": {"x": {"datum": "Allergy rhinitis"}, "y": {"datum": 105.4}, "y2": {"datum": 102}}},
                    {"data": {"values": [{}]}, "mark": {"type": "text", "font": "Liberation Serif", "fontSize": 18, "fontWeight": "bold", "baseline": "middle", "dy": 4}, "encoding": {"x": {"datum": "Normal group", "bandPosition": 1.27}, "y": {"datum": 108.7}, "text": {"value": "***"}}},
                    {"data": {"values": [{}]}, "mark": {"type": "text", "font": "Liberation Serif", "fontSize": 22, "fontWeight": "bold", "fontStyle": "italic", "align": "left", "baseline": "middle", "dx": -42}, "encoding": {"x": {"datum": "Normal group", "bandPosition": 1.27}, "y": {"datum": 118}, "text": {"value": "p"}}},
                    {"data": {"values": [{}]}, "mark": {"type": "text", "font": "Liberation Serif", "fontSize": 22, "fontWeight": "bold", "align": "left", "baseline": "middle", "dx": -31}, "encoding": {"x": {"datum": "Normal group", "bandPosition": 1.27}, "y": {"datum": 118}, "text": {"value": "=0.0006"}}}
                  ]
                }
              ],
              "spacing": 340, "bounds": "flush",
              "resolve": {"scale": {"fill": "independent"}, "legend": {"fill": "independent"}}
            }
          ],
          "spacing": 148, "bounds": "flush",
          "resolve": {"scale": {"fill": "independent"}, "legend": {"fill": "independent"}}
        },
        {
          "vconcat": [
            {
              "hconcat": [
                {
                  "width": 336, "height": 217,
                  "view": {"stroke": "#8c8c8c", "strokeWidth": 1.5},
                  "layer": [
                    {
                      "data": {"values": [
                        {"u": -0.9, "c": 0}, {"u": -0.12, "c": 0}, {"u": 0.07, "c": 0.4}, {"u": 0.37, "c": 0.9},
                        {"u": 0.61, "c": 2.5}, {"u": 0.8, "c": 4.4}, {"u": 1.04, "c": 4.4}, {"u": 1.22, "c": 6.5},
                        {"u": 1.37, "c": 11.8}, {"u": 1.47, "c": 17.1}, {"u": 1.56, "c": 15.1}, {"u": 1.65, "c": 16.8},
                        {"u": 1.77, "c": 17.1}, {"u": 1.89, "c": 21.8}, {"u": 2.01, "c": 29.1}, {"u": 2.1, "c": 26.8},
                        {"u": 2.2, "c": 31.4}, {"u": 2.32, "c": 26.4}, {"u": 2.5, "c": 21.1}, {"u": 2.68, "c": 12.5},
                        {"u": 2.87, "c": 5.8}, {"u": 3.05, "c": 0.5}, {"u": 3.17, "c": 0}, {"u": 4.61, "c": 0}
                      ]},
                      "mark": {"type": "line", "color": "#111111", "strokeWidth": 1.8},
                      "encoding": {
                        "x": {"field": "u", "type": "quantitative", "scale": {"domain": [-0.9, 4.61], "nice": false, "zero": false},
                          "axis": {"values": [-0.85,-0.443,-0.205,-0.036,0.095,0.202,0.293,0.371,0.44,0.502,0.909,1.147,1.316,1.447,1.554,1.645,1.723,1.792,1.854,2.261,2.499,2.668,2.799,2.906,2.997,3.075,3.144,3.206,3.613,3.851,4.02,4.151,4.258,4.349,4.427,4.496,4.558],
                            "tickCount": 500, "labels": false, "title": null, "grid": false, "domainColor": "#000", "domainWidth": 3, "tickColor": "#000",
                            "tickSize": {"condition": {"test": "indexof([-0.85,0.502,1.854,3.206,4.558], datum.value) >= 0", "value": 17}, "value": 8},
                            "tickWidth": {"condition": {"test": "indexof([-0.85,0.502,1.854,3.206,4.558], datum.value) >= 0", "value": 6}, "value": 2.5}}},
                        "y": {"field": "c", "type": "quantitative", "scale": {"domain": [0, 43.3], "nice": false},
                          "axis": {"values": [0,2,4,6,8,10,12,14,16,18,20,22,24,26,28,30,32,34,36,38,40,42],
                            "tickCount": 500, "labels": false, "title": null, "grid": false, "domainColor": "#000", "domainWidth": 3, "tickColor": "#000",
                            "tickSize": {"condition": {"test": "datum.value % 10 === 0", "value": 22}, "value": 8},
                            "tickWidth": {"condition": {"test": "datum.value % 10 === 0", "value": 4.5}, "value": 2.5}}}
                      }
                    },
                    {"data": {"values": [{}]}, "mark": {"type": "text", "font": "DejaVu Sans", "fontSize": 27, "color": "#111", "baseline": "middle"}, "encoding": {"x": {"datum": 0}, "y": {"datum": -12.2}, "text": {"value": "10\u2070"}}},
                    {"data": {"values": [{}]}, "mark": {"type": "text", "font": "DejaVu Sans", "fontSize": 27, "color": "#111", "baseline": "middle"}, "encoding": {"x": {"datum": 2}, "y": {"datum": -12.2}, "text": {"value": "10\u00b2"}}},
                    {"data": {"values": [{}]}, "mark": {"type": "text", "font": "DejaVu Sans", "fontSize": 27, "color": "#111", "baseline": "middle"}, "encoding": {"x": {"datum": 4}, "y": {"datum": -12.2}, "text": {"value": "10\u2074"}}},
                    {"data": {"values": [{}]}, "mark": {"type": "text", "font": "DejaVu Sans", "fontSize": 26, "color": "#111", "align": "right", "baseline": "middle"}, "encoding": {"x": {"datum": -1.49}, "y": {"datum": 0}, "text": {"value": "0"}}},
                    {"data": {"values": [{}]}, "mark": {"type": "text", "font": "DejaVu Sans", "fontSize": 26, "color": "#111", "align": "right", "baseline": "middle"}, "encoding": {"x": {"datum": -1.49}, "y": {"datum": 20}, "text": {"value": "20"}}},
                    {"data": {"values": [{}]}, "mark": {"type": "text", "font": "DejaVu Sans", "fontSize": 26, "color": "#111", "align": "right", "baseline": "middle"}, "encoding": {"x": {"datum": -1.49}, "y": {"datum": 40}, "text": {"value": "40"}}},
                    {"data": {"values": [{}]}, "mark": {"type": "rule", "color": "#808080", "strokeWidth": 2}, "encoding": {"x": {"datum": 1.71}, "x2": {"datum": 4.61}, "y": {"datum": 16.5}}},
                    {"data": {"values": [{}]}, "mark": {"type": "text", "font": "DejaVu Sans", "fontSize": 13, "color": "#3a3a3a", "lineHeight": 14, "baseline": "middle"}, "encoding": {"x": {"datum": 2.97}, "y": {"datum": 26.1}, "text": {"value": ["CD80 PE", "84.4"]}}},
                    {"data": {"values": [{}]}, "mark": {"type": "text", "font": "Liberation Sans", "fontSize": 27, "fontWeight": "bold", "baseline": "middle"}, "encoding": {"x": {"datum": -3.88}, "y": {"datum": 46.7}, "text": {"value": "E"}}},
                    {"data": {"values": [{}]}, "mark": {"type": "rule", "color": "#000", "strokeWidth": 3}, "encoding": {"x": {"datum": -2.69}, "y": {"datum": -3.7}, "y2": {"datum": 37.1}}},
                    {"data": {"values": [{}]}, "mark": {"type": "point", "shape": "M0,-1L0.65,1L-0.65,1Z", "size": 400, "filled": true, "color": "#000", "opacity": 1}, "encoding": {"x": {"datum": -2.69}, "y": {"datum": 37.1}}},
                    {"data": {"values": [{}]}, "mark": {"type": "text", "font": "Liberation Serif", "fontSize": 27, "fontWeight": "bold", "angle": 270, "baseline": "middle"}, "encoding": {"x": {"datum": -3.16}, "y": {"datum": 17.2}, "text": {"value": "Count"}}},
                    {"data": {"values": [{}]}, "mark": {"type": "rule", "color": "#000", "strokeWidth": 4}, "encoding": {"x": {"datum": -0.24}, "x2": {"datum": 12.5}, "y": {"datum": -18.7}}},
                    {"data": {"values": [{}]}, "mark": {"type": "point", "shape": "M1,0L-1,-1L-1,1Z", "size": 441, "filled": true, "color": "#000", "opacity": 1}, "encoding": {"x": {"datum": 12.5}, "y": {"datum": -18.7}}},
                    {"data": {"values": [{}]}, "mark": {"type": "text", "font": "Liberation Serif", "fontSize": 27, "fontWeight": "bold", "align": "left", "baseline": "middle"}, "encoding": {"x": {"datum": 12.84}, "y": {"datum": -18.7}, "text": {"value": "CD80"}}},
                    {"data": {"values": [{}]}, "mark": {"type": "text", "font": "Liberation Serif", "fontSize": 27, "fontWeight": "bold", "baseline": "middle"}, "encoding": {"x": {"datum": 2.44}, "y": {"datum": -25.6}, "text": {"value": "Normal group"}}}
                  ]
                },
                {
                  "hconcat": [
                    {
                      "width": 328, "height": 213,
                      "view": {"stroke": "#8c8c8c", "strokeWidth": 1.5},
                      "layer": [
                        {
                          "data": {"values": [
                            {"u": -0.93, "c": 0}, {"u": 0.43, "c": 0}, {"u": 0.69, "c": 1.2}, {"u": 1.0, "c": 4.8},
                            {"u": 1.19, "c": 9}, {"u": 1.38, "c": 17.3}, {"u": 1.54, "c": 20.9}, {"u": 1.66, "c": 25.7},
                            {"u": 1.75, "c": 26.9}, {"u": 1.88, "c": 26.3}, {"u": 2.06, "c": 28.1}, {"u": 2.19, "c": 35.2},
                            {"u": 2.31, "c": 41.2}, {"u": 2.44, "c": 52}, {"u": 2.54, "c": 56.7}, {"u": 2.63, "c": 60.9},
                            {"u": 2.72, "c": 52}, {"u": 2.81, "c": 37.6}, {"u": 2.96, "c": 18.5}, {"u": 3.13, "c": 4.2},
                            {"u": 3.34, "c": 0}, {"u": 4.6, "c": 0}
                          ]},
                          "mark": {"type": "line", "color": "#111111", "strokeWidth": 1.8},
                          "encoding": {
                            "x": {"field": "u", "type": "quantitative", "scale": {"domain": [-0.93, 4.6], "nice": false, "zero": false},
                              "axis": {"values": [-0.88,-0.472,-0.233,-0.063,0.069,0.176,0.267,0.345,0.415,0.477,0.885,1.124,1.294,1.426,1.533,1.624,1.702,1.772,1.834,2.242,2.481,2.651,2.783,2.89,2.981,3.059,3.129,3.191,3.599,3.838,4.008,4.14,4.247,4.338,4.416,4.486,4.548],
                                "tickCount": 500, "labels": false, "title": null, "grid": false, "domainColor": "#000", "domainWidth": 3, "tickColor": "#000",
                                "tickSize": {"condition": {"test": "indexof([-0.88,0.477,1.834,3.191,4.548], datum.value) >= 0", "value": 17}, "value": 8},
                                "tickWidth": {"condition": {"test": "indexof([-0.88,0.477,1.834,3.191,4.548], datum.value) >= 0", "value": 6}, "value": 2.5}}},
                            "y": {"field": "c", "type": "quantitative", "scale": {"domain": [0, 76.3], "nice": false},
                              "axis": {"values": [0,5,10,15,20,25,30,35,40,45,50,55,60,65,70,75],
                                "tickCount": 500, "labels": false, "title": null, "grid": false, "domainColor": "#000", "domainWidth": 3, "tickColor": "#000",
                                "tickSize": {"condition": {"test": "datum.value % 20 === 0", "value": 22}, "value": 8},
                                "tickWidth": {"condition": {"test": "datum.value % 20 === 0", "value": 4.5}, "value": 2.5}}}
                          }
                        },
                        {"data": {"values": [{}]}, "mark": {"type": "text", "font": "DejaVu Sans", "fontSize": 27, "color": "#111", "baseline": "middle"}, "encoding": {"x": {"datum": 0}, "y": {"datum": -21.5}, "text": {"value": "10\u2070"}}},
                        {"data": {"values": [{}]}, "mark": {"type": "text", "font": "DejaVu Sans", "fontSize": 27, "color": "#111", "baseline": "middle"}, "encoding": {"x": {"datum": 2}, "y": {"datum": -21.5}, "text": {"value": "10\u00b2"}}},
                        {"data": {"values": [{}]}, "mark": {"type": "text", "font": "DejaVu Sans", "fontSize": 27, "color": "#111", "baseline": "middle"}, "encoding": {"x": {"datum": 4}, "y": {"datum": -21.5}, "text": {"value": "10\u2074"}}},
                        {"data": {"values": [{}]}, "mark": {"type": "text", "font": "DejaVu Sans", "fontSize": 26, "color": "#111", "align": "right", "baseline": "middle"}, "encoding": {"x": {"datum": -1.54}, "y": {"datum": 0}, "text": {"value": "0"}}},
                        {"data": {"values": [{}]}, "mark": {"type": "text", "font": "DejaVu Sans", "fontSize": 26, "color": "#111", "align": "right", "baseline": "middle"}, "encoding": {"x": {"datum": -1.54}, "y": {"datum": 40}, "text": {"value": "40"}}},
                        {"data": {"values": [{}]}, "mark": {"type": "rule", "color": "#808080", "strokeWidth": 2}, "encoding": {"x": {"datum": 1.4}, "x2": {"datum": 4.28}, "y": {"datum": 32}}},
                        {"data": {"values": [{}]}, "mark": {"type": "rule", "color": "#808080", "strokeWidth": 2}, "encoding": {"x": {"datum": 1.4}, "y": {"datum": 30.2}, "y2": {"datum": 33.8}}},
                        {"data": {"values": [{}]}, "mark": {"type": "rule", "color": "#808080", "strokeWidth": 2}, "encoding": {"x": {"datum": 4.28}, "y": {"datum": 30.2}, "y2": {"datum": 33.8}}},
                        {"data": {"values": [{}]}, "mark": {"type": "text", "font": "DejaVu Sans", "fontSize": 13, "color": "#3a3a3a", "lineHeight": 14, "baseline": "middle"}, "encoding": {"x": {"datum": 2.81}, "y": {"datum": 49.6}, "text": {"value": ["CD80 PE", "93.1"]}}},
                        {"data": {"values": [{}]}, "mark": {"type": "text", "font": "Liberation Serif", "fontSize": 27, "fontWeight": "bold", "baseline": "middle"}, "encoding": {"x": {"datum": 1.45}, "y": {"datum": -47.7}, "text": {"value": "Allergy rhinitis"}}}
                      ]
                    },
                    {
                      "width": 459, "height": 295,
                      "title": {"text": "F", "anchor": "start", "frame": "group", "dx": -143, "offset": -5, "font": "Liberation Sans", "fontSize": 27, "fontWeight": "bold", "color": "#000"},
                      "data": {"values": [{"group": "Normal group", "mean": 67.5, "upper": 77.6}, {"group": "Allergy rhinitis", "mean": 96.6, "upper": 98.5}]},
                      "encoding": {"x": {"field": "group", "type": "nominal", "sort": null, "scale": {"paddingInner": 0.35, "paddingOuter": 0.51},
                        "axis": {"title": null, "labelAngle": -45, "labelFont": "Liberation Serif", "labelFontWeight": "bold", "labelFontSize": 19, "labelColor": "#111", "labelPadding": 3, "domainColor": "#000", "domainWidth": 3, "tickColor": "#000", "tickWidth": 2.5, "tickSize": 10}}},
                      "layer": [
                        {"mark": {"type": "rule", "color": "#000", "strokeWidth": 3},
                         "encoding": {"y": {"field": "mean", "type": "quantitative", "scale": {"domain": [0, 100], "range": [295, 47], "nice": false},
                           "axis": {"values": [0, 20, 40, 60, 80, 100], "title": "% of CD80 positive cells", "titleFont": "Liberation Serif", "titleFontSize": 24, "titleFontWeight": "bold", "titleColor": "#111", "titlePadding": 10,
                             "labelFont": "Liberation Sans", "labelFontWeight": "bold", "labelFontSize": 19, "labelColor": "#111", "labelPadding": 4, "tickColor": "#000", "tickWidth": 2.5, "tickSize": 7, "domainColor": "#000", "domainWidth": 3, "grid": false}},
                           "y2": {"field": "upper"}}},
                        {"mark": {"type": "tick", "color": "#000", "thickness": 3, "size": 55}, "encoding": {"y": {"field": "upper", "type": "quantitative"}}},
                        {"mark": {"type": "bar", "stroke": "#000", "strokeWidth": 3},
                         "encoding": {"y": {"field": "mean", "type": "quantitative"},
                           "fill": {"field": "group", "type": "nominal", "scale": {"domain": ["Normal group", "Allergy rhinitis"], "range": ["#2b2b2b", "#2b2b2b"]},
                             "legend": {"orient": "none", "legendX": 490, "legendY": 51, "title": null, "padding": 0, "symbolType": "M-1,-0.55H1V0.55H-1Z", "symbolSize": 900, "symbolOpacity": 1, "symbolStrokeColor": "#000", "symbolStrokeWidth": 1.5, "rowPadding": 3, "labelOffset": 16,
                               "labelFont": "Liberation Serif", "labelFontWeight": "bold", "labelFontSize": 22, "labelColor": "#111"}}}},
                        {"transform": [{"filter": "datum.group === 'Normal group'"}], "mark": {"type": "bar", "fill": "#808080", "strokeWidth": 0}, "encoding": {"y": {"field": "mean", "type": "quantitative"}}},
                        {"transform": [{"filter": "datum.group === 'Allergy rhinitis'"}],
                         "mark": {"type": "bar", "strokeWidth": 0, "fill": {"gradient": "linear", "x1": 0, "y1": 0, "x2": 1, "y2": 0, "stops": [
                           {"offset": 0, "color": "#1a1a1a"}, {"offset": 0.0625, "color": "#1a1a1a"}, {"offset": 0.0625, "color": "#ffffff"}, {"offset": 0.125, "color": "#ffffff"},
                           {"offset": 0.125, "color": "#1a1a1a"}, {"offset": 0.1875, "color": "#1a1a1a"}, {"offset": 0.1875, "color": "#ffffff"}, {"offset": 0.25, "color": "#ffffff"},
                           {"offset": 0.25, "color": "#1a1a1a"}, {"offset": 0.3125, "color": "#1a1a1a"}, {"offset": 0.3125, "color": "#ffffff"}, {"offset": 0.375, "color": "#ffffff"},
                           {"offset": 0.375, "color": "#1a1a1a"}, {"offset": 0.4375, "color": "#1a1a1a"}, {"offset": 0.4375, "color": "#ffffff"}, {"offset": 0.5, "color": "#ffffff"},
                           {"offset": 0.5, "color": "#1a1a1a"}, {"offset": 0.5625, "color": "#1a1a1a"}, {"offset": 0.5625, "color": "#ffffff"}, {"offset": 0.625, "color": "#ffffff"},
                           {"offset": 0.625, "color": "#1a1a1a"}, {"offset": 0.6875, "color": "#1a1a1a"}, {"offset": 0.6875, "color": "#ffffff"}, {"offset": 0.75, "color": "#ffffff"},
                           {"offset": 0.75, "color": "#1a1a1a"}, {"offset": 0.8125, "color": "#1a1a1a"}, {"offset": 0.8125, "color": "#ffffff"}, {"offset": 0.875, "color": "#ffffff"},
                           {"offset": 0.875, "color": "#1a1a1a"}, {"offset": 0.9375, "color": "#1a1a1a"}, {"offset": 0.9375, "color": "#ffffff"}, {"offset": 1, "color": "#ffffff"}]}},
                         "encoding": {"y": {"field": "mean", "type": "quantitative"}}},
                        {"transform": [{"filter": "datum.group === 'Allergy rhinitis'"}],
                         "mark": {"type": "bar", "strokeWidth": 0, "blend": "difference", "fill": {"gradient": "linear", "x1": 0, "y1": 0, "x2": 0, "y2": 1, "stops": [
                           {"offset": 0, "color": "#ffffff"}, {"offset": 0.03125, "color": "#ffffff"}, {"offset": 0.03125, "color": "rgba(255,255,255,0)"}, {"offset": 0.0625, "color": "rgba(255,255,255,0)"},
                           {"offset": 0.0625, "color": "#ffffff"}, {"offset": 0.09375, "color": "#ffffff"}, {"offset": 0.09375, "color": "rgba(255,255,255,0)"}, {"offset": 0.125, "color": "rgba(255,255,255,0)"},
                           {"offset": 0.125, "color": "#ffffff"}, {"offset": 0.15625, "color": "#ffffff"}, {"offset": 0.15625, "color": "rgba(255,255,255,0)"}, {"offset": 0.1875, "color": "rgba(255,255,255,0)"},
                           {"offset": 0.1875, "color": "#ffffff"}, {"offset": 0.21875, "color": "#ffffff"}, {"offset": 0.21875, "color": "rgba(255,255,255,0)"}, {"offset": 0.25, "color": "rgba(255,255,255,0)"},
                           {"offset": 0.25, "color": "#ffffff"}, {"offset": 0.28125, "color": "#ffffff"}, {"offset": 0.28125, "color": "rgba(255,255,255,0)"}, {"offset": 0.3125, "color": "rgba(255,255,255,0)"},
                           {"offset": 0.3125, "color": "#ffffff"}, {"offset": 0.34375, "color": "#ffffff"}, {"offset": 0.34375, "color": "rgba(255,255,255,0)"}, {"offset": 0.375, "color": "rgba(255,255,255,0)"},
                           {"offset": 0.375, "color": "#ffffff"}, {"offset": 0.40625, "color": "#ffffff"}, {"offset": 0.40625, "color": "rgba(255,255,255,0)"}, {"offset": 0.4375, "color": "rgba(255,255,255,0)"},
                           {"offset": 0.4375, "color": "#ffffff"}, {"offset": 0.46875, "color": "#ffffff"}, {"offset": 0.46875, "color": "rgba(255,255,255,0)"}, {"offset": 0.5, "color": "rgba(255,255,255,0)"},
                           {"offset": 0.5, "color": "#ffffff"}, {"offset": 0.53125, "color": "#ffffff"}, {"offset": 0.53125, "color": "rgba(255,255,255,0)"}, {"offset": 0.5625, "color": "rgba(255,255,255,0)"},
                           {"offset": 0.5625, "color": "#ffffff"}, {"offset": 0.59375, "color": "#ffffff"}, {"offset": 0.59375, "color": "rgba(255,255,255,0)"}, {"offset": 0.625, "color": "rgba(255,255,255,0)"},
                           {"offset": 0.625, "color": "#ffffff"}, {"offset": 0.65625, "color": "#ffffff"}, {"offset": 0.65625, "color": "rgba(255,255,255,0)"}, {"offset": 0.6875, "color": "rgba(255,255,255,0)"},
                           {"offset": 0.6875, "color": "#ffffff"}, {"offset": 0.71875, "color": "#ffffff"}, {"offset": 0.71875, "color": "rgba(255,255,255,0)"}, {"offset": 0.75, "color": "rgba(255,255,255,0)"},
                           {"offset": 0.75, "color": "#ffffff"}, {"offset": 0.78125, "color": "#ffffff"}, {"offset": 0.78125, "color": "rgba(255,255,255,0)"}, {"offset": 0.8125, "color": "rgba(255,255,255,0)"},
                           {"offset": 0.8125, "color": "#ffffff"}, {"offset": 0.84375, "color": "#ffffff"}, {"offset": 0.84375, "color": "rgba(255,255,255,0)"}, {"offset": 0.875, "color": "rgba(255,255,255,0)"},
                           {"offset": 0.875, "color": "#ffffff"}, {"offset": 0.90625, "color": "#ffffff"}, {"offset": 0.90625, "color": "rgba(255,255,255,0)"}, {"offset": 0.9375, "color": "rgba(255,255,255,0)"},
                           {"offset": 0.9375, "color": "#ffffff"}, {"offset": 0.96875, "color": "#ffffff"}, {"offset": 0.96875, "color": "rgba(255,255,255,0)"}, {"offset": 1, "color": "rgba(255,255,255,0)"}]}},
                         "encoding": {"y": {"field": "mean", "type": "quantitative"}}},
                        {"mark": {"type": "bar", "fill": "transparent", "stroke": "#000", "strokeWidth": 3}, "encoding": {"y": {"field": "mean", "type": "quantitative"}}},
                        {"data": {"values": [{}]}, "mark": {"type": "rule", "color": "#555", "strokeWidth": 1.5}, "encoding": {"x": {"datum": "Normal group"}, "x2": {"datum": "Allergy rhinitis"}, "y": {"datum": 104.6}}},
                        {"data": {"values": [{}]}, "mark": {"type": "rule", "color": "#555", "strokeWidth": 1.5}, "encoding": {"x": {"datum": "Normal group"}, "y": {"datum": 104.6}, "y2": {"datum": 79.4}}},
                        {"data": {"values": [{}]}, "mark": {"type": "rule", "color": "#555", "strokeWidth": 1.5}, "encoding": {"x": {"datum": "Allergy rhinitis"}, "y": {"datum": 104.6}, "y2": {"datum": 100.9}}},
                        {"data": {"values": [{}]}, "mark": {"type": "text", "font": "Liberation Serif", "fontSize": 18, "fontWeight": "bold", "baseline": "middle", "dy": 4}, "encoding": {"x": {"datum": "Normal group", "bandPosition": 1.27}, "y": {"datum": 106.3}, "text": {"value": "***"}}},
                        {"data": {"values": [{}]}, "mark": {"type": "text", "font": "Liberation Serif", "fontSize": 22, "fontWeight": "bold", "fontStyle": "italic", "align": "left", "baseline": "middle", "dx": -42}, "encoding": {"x": {"datum": "Normal group", "bandPosition": 1.27}, "y": {"datum": 117.7}, "text": {"value": "p"}}},
                        {"data": {"values": [{}]}, "mark": {"type": "text", "font": "Liberation Serif", "fontSize": 22, "fontWeight": "bold", "align": "left", "baseline": "middle", "dx": -31}, "encoding": {"x": {"datum": "Normal group", "bandPosition": 1.27}, "y": {"datum": 117.7}, "text": {"value": "=0.0003"}}}
                      ]
                    }
                  ],
                  "spacing": 299, "bounds": "flush",
                  "resolve": {"scale": {"fill": "independent"}, "legend": {"fill": "independent"}}
                }
              ],
              "spacing": 149, "bounds": "flush",
              "resolve": {"scale": {"fill": "independent"}, "legend": {"fill": "independent"}}
            },
            {
              "hconcat": [
                {
                  "width": 315, "height": 225,
                  "view": {"stroke": "#8c8c8c", "strokeWidth": 1.5},
                  "layer": [
                    {
                      "data": {"values": [
                        {"u": -0.85, "c": 0.3}, {"u": -0.48, "c": 0}, {"u": -0.24, "c": 0.6}, {"u": 0, "c": 1.7},
                        {"u": 0.18, "c": 2.9}, {"u": 0.36, "c": 4.9}, {"u": 0.55, "c": 6.6}, {"u": 0.67, "c": 11.1},
                        {"u": 0.78, "c": 17.4}, {"u": 0.87, "c": 21.4}, {"u": 0.97, "c": 24}, {"u": 1.07, "c": 24.9},
                        {"u": 1.15, "c": 27.7}, {"u": 1.23, "c": 23.2}, {"u": 1.33, "c": 20.9}, {"u": 1.43, "c": 21.4},
                        {"u": 1.52, "c": 17.4}, {"u": 1.64, "c": 15.7}, {"u": 1.72, "c": 10.9}, {"u": 1.88, "c": 13.7},
                        {"u": 2.04, "c": 12}, {"u": 2.18, "c": 14.9}, {"u": 2.3, "c": 14.3}, {"u": 2.45, "c": 18.3},
                        {"u": 2.57, "c": 16.9}, {"u": 2.73, "c": 17.7}, {"u": 2.87, "c": 14.9}, {"u": 3.03, "c": 16.3},
                        {"u": 3.18, "c": 18}, {"u": 3.27, "c": 15.7}, {"u": 3.42, "c": 12.9}, {"u": 3.58, "c": 7.7},
                        {"u": 3.73, "c": 3.1}, {"u": 3.94, "c": 0.3}, {"u": 4.18, "c": 0}, {"u": 4.6, "c": 0}
                      ]},
                      "mark": {"type": "line", "color": "#111111", "strokeWidth": 1.8},
                      "encoding": {
                        "x": {"field": "u", "type": "quantitative", "scale": {"domain": [-0.85, 4.6], "nice": false, "zero": false},
                          "axis": {"values": [-0.8,-0.398,-0.162,0.005,0.135,0.24,0.33,0.407,0.476,0.537,0.939,1.175,1.342,1.472,1.577,1.667,1.744,1.813,1.874,2.276,2.512,2.679,2.809,2.914,3.004,3.081,3.15,3.211,3.613,3.849,4.016,4.146,4.251,4.341,4.418,4.487,4.548],
                            "tickCount": 500, "labels": false, "title": null, "grid": false, "domainColor": "#000", "domainWidth": 3, "tickColor": "#000",
                            "tickSize": {"condition": {"test": "indexof([-0.8,0.537,1.874,3.211,4.548], datum.value) >= 0", "value": 17}, "value": 8},
                            "tickWidth": {"condition": {"test": "indexof([-0.8,0.537,1.874,3.211,4.548], datum.value) >= 0", "value": 6}, "value": 2.5}}},
                        "y": {"field": "c", "type": "quantitative", "scale": {"domain": [0, 38.6], "nice": false},
                          "axis": {"values": [0,2,4,6,8,10,12,14,16,18,20,22,24,26,28,30,32,34,36,38],
                            "tickCount": 500, "labels": false, "title": null, "grid": false, "domainColor": "#000", "domainWidth": 3, "tickColor": "#000",
                            "tickSize": {"condition": {"test": "datum.value % 10 === 0", "value": 22}, "value": 8},
                            "tickWidth": {"condition": {"test": "datum.value % 10 === 0", "value": 4.5}, "value": 2.5}}}
                      }
                    },
                    {"data": {"values": [{}]}, "mark": {"type": "text", "font": "DejaVu Sans", "fontSize": 27, "color": "#111", "baseline": "middle"}, "encoding": {"x": {"datum": 0}, "y": {"datum": -10.1}, "text": {"value": "10\u2070"}}},
                    {"data": {"values": [{}]}, "mark": {"type": "text", "font": "DejaVu Sans", "fontSize": 27, "color": "#111", "baseline": "middle"}, "encoding": {"x": {"datum": 2}, "y": {"datum": -10.1}, "text": {"value": "10\u00b2"}}},
                    {"data": {"values": [{}]}, "mark": {"type": "text", "font": "DejaVu Sans", "fontSize": 27, "color": "#111", "baseline": "middle"}, "encoding": {"x": {"datum": 4}, "y": {"datum": -10.1}, "text": {"value": "10\u2074"}}},
                    {"data": {"values": [{}]}, "mark": {"type": "text", "font": "DejaVu Sans", "fontSize": 26, "color": "#111", "align": "right", "baseline": "middle"}, "encoding": {"x": {"datum": -1.47}, "y": {"datum": 0}, "text": {"value": "0"}}},
                    {"data": {"values": [{}]}, "mark": {"type": "text", "font": "DejaVu Sans", "fontSize": 26, "color": "#111", "align": "right", "baseline": "middle"}, "encoding": {"x": {"datum": -1.47}, "y": {"datum": 10}, "text": {"value": "10"}}},
                    {"data": {"values": [{}]}, "mark": {"type": "text", "font": "DejaVu Sans", "fontSize": 26, "color": "#111", "align": "right", "baseline": "middle"}, "encoding": {"x": {"datum": -1.47}, "y": {"datum": 20}, "text": {"value": "20"}}},
                    {"data": {"values": [{}]}, "mark": {"type": "rule", "color": "#808080", "strokeWidth": 2}, "encoding": {"x": {"datum": 1.48}, "x2": {"datum": 4.3}, "y": {"datum": 18.3}}},
                    {"data": {"values": [{}]}, "mark": {"type": "rule", "color": "#808080", "strokeWidth": 2}, "encoding": {"x": {"datum": 1.48}, "y": {"datum": 17.4}, "y2": {"datum": 19.2}}},
                    {"data": {"values": [{}]}, "mark": {"type": "rule", "color": "#808080", "strokeWidth": 2}, "encoding": {"x": {"datum": 4.3}, "y": {"datum": 17.4}, "y2": {"datum": 19.2}}},
                    {"data": {"values": [{}]}, "mark": {"type": "text", "font": "DejaVu Sans", "fontSize": 13, "color": "#3a3a3a", "lineHeight": 14, "baseline": "middle"}, "encoding": {"x": {"datum": 2.85}, "y": {"datum": 26.9}, "text": {"value": ["CD86 APC", "62.6"]}}},
                    {"data": {"values": [{}]}, "mark": {"type": "text", "font": "Liberation Sans", "fontSize": 27, "fontWeight": "bold", "baseline": "middle"}, "encoding": {"x": {"datum": -4.05}, "y": {"datum": 40}, "text": {"value": "G"}}},
                    {"data": {"values": [{}]}, "mark": {"type": "rule", "color": "#000", "strokeWidth": 3}, "encoding": {"x": {"datum": -2.67}, "y": {"datum": -4.6}, "y2": {"datum": 32.3}}},
                    {"data": {"values": [{}]}, "mark": {"type": "point", "shape": "M0,-1L0.65,1L-0.65,1Z", "size": 400, "filled": true, "color": "#000", "opacity": 1}, "encoding": {"x": {"datum": -2.67}, "y": {"datum": 32.3}}},
                    {"data": {"values": [{}]}, "mark": {"type": "text", "font": "Liberation Serif", "fontSize": 27, "fontWeight": "bold", "angle": 270, "baseline": "middle"}, "encoding": {"x": {"datum": -3.22}, "y": {"datum": 13.4}, "text": {"value": "Count"}}},
                    {"data": {"values": [{}]}, "mark": {"type": "rule", "color": "#000", "strokeWidth": 4}, "encoding": {"x": {"datum": -0.42}, "x2": {"datum": 13.03}, "y": {"datum": -13.7}}},
                    {"data": {"values": [{}]}, "mark": {"type": "point", "shape": "M1,0L-1,-1L-1,1Z", "size": 441, "filled": true, "color": "#000", "opacity": 1}, "encoding": {"x": {"datum": 13.03}, "y": {"datum": -13.7}}},
                    {"data": {"values": [{}]}, "mark": {"type": "text", "font": "Liberation Serif", "fontSize": 27, "fontWeight": "bold", "baseline": "middle"}, "encoding": {"x": {"datum": 2.9}, "y": {"datum": -20}, "text": {"value": "Normal group"}}}
                  ]
                },
                {
                  "hconcat": [
                    {
                      "width": 312, "height": 207,
                      "view": {"stroke": "#8c8c8c", "strokeWidth": 1.5},
                      "layer": [
                        {
                          "data": {"values": [
                            {"u": -0.86, "c": 0}, {"u": 0.62, "c": 0}, {"u": 0.86, "c": 1.3}, {"u": 1.11, "c": 3.1},
                            {"u": 1.29, "c": 4.7}, {"u": 1.54, "c": 4.2}, {"u": 1.78, "c": 5.5}, {"u": 1.97, "c": 5.5},
                            {"u": 2.09, "c": 7.1}, {"u": 2.21, "c": 5.5}, {"u": 2.37, "c": 8.2}, {"u": 2.52, "c": 5.8},
                            {"u": 2.71, "c": 7.8}, {"u": 2.87, "c": 18.8}, {"u": 2.99, "c": 28.2}, {"u": 3.14, "c": 53.3},
                            {"u": 3.26, "c": 69}, {"u": 3.38, "c": 78.4}, {"u": 3.48, "c": 79.2}, {"u": 3.57, "c": 72.2},
                            {"u": 3.69, "c": 50.2}, {"u": 3.81, "c": 25.1}, {"u": 3.94, "c": 7.8}, {"u": 4.06, "c": 1.3},
                            {"u": 4.3, "c": 0}, {"u": 4.61, "c": 0}
                          ]},
                          "mark": {"type": "line", "color": "#111111", "strokeWidth": 1.8},
                          "encoding": {
                            "x": {"field": "u", "type": "quantitative", "scale": {"domain": [-0.86, 4.61], "nice": false, "zero": false},
                              "axis": {"values": [-0.81,-0.406,-0.17,-0.002,0.128,0.234,0.324,0.402,0.471,0.532,0.936,1.172,1.34,1.47,1.576,1.666,1.744,1.813,1.874,2.278,2.514,2.682,2.812,2.918,3.008,3.086,3.155,3.216,3.62,3.856,4.024,4.154,4.26,4.35,4.428,4.497,4.558],
                                "tickCount": 500, "labels": false, "title": null, "grid": false, "domainColor": "#000", "domainWidth": 3, "tickColor": "#000",
                                "tickSize": {"condition": {"test": "indexof([-0.81,0.532,1.874,3.216,4.558], datum.value) >= 0", "value": 17}, "value": 8},
                                "tickWidth": {"condition": {"test": "indexof([-0.81,0.532,1.874,3.216,4.558], datum.value) >= 0", "value": 6}, "value": 2.5}}},
                            "y": {"field": "c", "type": "quantitative", "scale": {"domain": [0, 97.4], "nice": false},
                              "axis": {"values": [0,5,10,15,20,25,30,35,40,45,50,55,60,65,70,75,80,85,90,95],
                                "tickCount": 500, "labels": false, "title": null, "grid": false, "domainColor": "#000", "domainWidth": 3, "tickColor": "#000",
                                "tickSize": {"condition": {"test": "datum.value % 20 === 0", "value": 22}, "value": 8},
                                "tickWidth": {"condition": {"test": "datum.value % 20 === 0", "value": 4.5}, "value": 2.5}}}
                          }
                        },
                        {"data": {"values": [{}]}, "mark": {"type": "text", "font": "DejaVu Sans", "fontSize": 27, "color": "#111", "baseline": "middle"}, "encoding": {"x": {"datum": 0}, "y": {"datum": -27.3}, "text": {"value": "10\u2070"}}},
                        {"data": {"values": [{}]}, "mark": {"type": "text", "font": "DejaVu Sans", "fontSize": 27, "color": "#111", "baseline": "middle"}, "encoding": {"x": {"datum": 2}, "y": {"datum": -27.3}, "text": {"value": "10\u00b2"}}},
                        {"data": {"values": [{}]}, "mark": {"type": "text", "font": "DejaVu Sans", "fontSize": 27, "color": "#111", "baseline": "middle"}, "encoding": {"x": {"datum": 4}, "y": {"datum": -27.3}, "text": {"value": "10\u2074"}}},
                        {"data": {"values": [{}]}, "mark": {"type": "text", "font": "DejaVu Sans", "fontSize": 26, "color": "#111", "align": "right", "baseline": "middle"}, "encoding": {"x": {"datum": -1.49}, "y": {"datum": 0}, "text": {"value": "0"}}},
                        {"data": {"values": [{}]}, "mark": {"type": "text", "font": "DejaVu Sans", "fontSize": 26, "color": "#111", "align": "right", "baseline": "middle"}, "encoding": {"x": {"datum": -1.49}, "y": {"datum": 40}, "text": {"value": "40"}}},
                        {"data": {"values": [{}]}, "mark": {"type": "text", "font": "DejaVu Sans", "fontSize": 26, "color": "#111", "align": "right", "baseline": "middle"}, "encoding": {"x": {"datum": -1.49}, "y": {"datum": 80}, "text": {"value": "80"}}},
                        {"data": {"values": [{}]}, "mark": {"type": "rule", "color": "#808080", "strokeWidth": 2}, "encoding": {"x": {"datum": 1.44}, "x2": {"datum": 4.34}, "y": {"datum": 44.7}}},
                        {"data": {"values": [{}]}, "mark": {"type": "rule", "color": "#808080", "strokeWidth": 2}, "encoding": {"x": {"datum": 1.44}, "y": {"datum": 42.3}, "y2": {"datum": 47.1}}},
                        {"data": {"values": [{}]}, "mark": {"type": "rule", "color": "#808080", "strokeWidth": 2}, "encoding": {"x": {"datum": 4.34}, "y": {"datum": 42.3}, "y2": {"datum": 47.1}}},
                        {"data": {"values": [{}]}, "mark": {"type": "text", "font": "DejaVu Sans", "fontSize": 13, "color": "#3a3a3a", "lineHeight": 14, "baseline": "middle"}, "encoding": {"x": {"datum": 2.83}, "y": {"datum": 67.4}, "text": {"value": ["CD86 APC", "96.3"]}}},
                        {"data": {"values": [{}]}, "mark": {"type": "text", "font": "Liberation Serif", "fontSize": 27, "fontWeight": "bold", "baseline": "middle"}, "encoding": {"x": {"datum": 1.85}, "y": {"datum": -63.5}, "text": {"value": "Allergy rhinitis"}}}
                      ]
                    },
                    {
                      "width": 465, "height": 290,
                      "title": {"text": "H", "anchor": "start", "frame": "group", "dx": -151, "offset": -18, "font": "Liberation Sans", "fontSize": 27, "fontWeight": "bold", "color": "#000"},
                      "data": {"values": [{"group": "Normal group", "mean": 64.1, "upper": 73.4}, {"group": "Allergy rhinitis", "mean": 94.6, "upper": 99.6}]},
                      "encoding": {"x": {"field": "group", "type": "nominal", "sort": null, "scale": {"paddingInner": 0.35, "paddingOuter": 0.51},
                        "axis": {"title": null, "labelAngle": -45, "labelFont": "Liberation Serif", "labelFontWeight": "bold", "labelFontSize": 18, "labelColor": "#111", "labelPadding": 1, "domainColor": "#000", "domainWidth": 3, "tickColor": "#000", "tickWidth": 2.5, "tickSize": 8}}},
                      "layer": [
                        {"mark": {"type": "rule", "color": "#000", "strokeWidth": 3},
                         "encoding": {"y": {"field": "mean", "type": "quantitative", "scale": {"domain": [0, 100], "range": [290, 49], "nice": false},
                           "axis": {"values": [0, 20, 40, 60, 80, 100], "title": "% of CD86 positive cells", "titleFont": "Liberation Serif", "titleFontSize": 24, "titleFontWeight": "bold", "titleColor": "#111", "titlePadding": 10,
                             "labelFont": "Liberation Sans", "labelFontWeight": "bold", "labelFontSize": 19, "labelColor": "#111", "labelPadding": 4, "tickColor": "#000", "tickWidth": 2.5, "tickSize": 7, "domainColor": "#000", "domainWidth": 3, "grid": false}},
                           "y2": {"field": "upper"}}},
                        {"mark": {"type": "tick", "color": "#000", "thickness": 3, "size": 55}, "encoding": {"y": {"field": "upper", "type": "quantitative"}}},
                        {"mark": {"type": "bar", "stroke": "#000", "strokeWidth": 3},
                         "encoding": {"y": {"field": "mean", "type": "quantitative"},
                           "fill": {"field": "group", "type": "nominal", "scale": {"domain": ["Normal group", "Allergy rhinitis"], "range": ["#2b2b2b", "#2b2b2b"]},
                             "legend": {"orient": "none", "legendX": 496, "legendY": 52, "title": null, "padding": 0, "symbolType": "M-1,-0.55H1V0.55H-1Z", "symbolSize": 900, "symbolOpacity": 1, "symbolStrokeColor": "#000", "symbolStrokeWidth": 1.5, "rowPadding": 3, "labelOffset": 16,
                               "labelFont": "Liberation Serif", "labelFontWeight": "bold", "labelFontSize": 22, "labelColor": "#111"}}}},
                        {"transform": [{"filter": "datum.group === 'Normal group'"}], "mark": {"type": "bar", "fill": "#808080", "strokeWidth": 0}, "encoding": {"y": {"field": "mean", "type": "quantitative"}}},
                        {"transform": [{"filter": "datum.group === 'Allergy rhinitis'"}],
                         "mark": {"type": "bar", "strokeWidth": 0, "fill": {"gradient": "linear", "x1": 0, "y1": 0, "x2": 1, "y2": 0, "stops": [
                           {"offset": 0, "color": "#1a1a1a"}, {"offset": 0.0625, "color": "#1a1a1a"}, {"offset": 0.0625, "color": "#ffffff"}, {"offset": 0.125, "color": "#ffffff"},
                           {"offset": 0.125, "color": "#1a1a1a"}, {"offset": 0.1875, "color": "#1a1a1a"}, {"offset": 0.1875, "color": "#ffffff"}, {"offset": 0.25, "color": "#ffffff"},
                           {"offset": 0.25, "color": "#1a1a1a"}, {"offset": 0.3125, "color": "#1a1a1a"}, {"offset": 0.3125, "color": "#ffffff"}, {"offset": 0.375, "color": "#ffffff"},
                           {"offset": 0.375, "color": "#1a1a1a"}, {"offset": 0.4375, "color": "#1a1a1a"}, {"offset": 0.4375, "color": "#ffffff"}, {"offset": 0.5, "color": "#ffffff"},
                           {"offset": 0.5, "color": "#1a1a1a"}, {"offset": 0.5625, "color": "#1a1a1a"}, {"offset": 0.5625, "color": "#ffffff"}, {"offset": 0.625, "color": "#ffffff"},
                           {"offset": 0.625, "color": "#1a1a1a"}, {"offset": 0.6875, "color": "#1a1a1a"}, {"offset": 0.6875, "color": "#ffffff"}, {"offset": 0.75, "color": "#ffffff"},
                           {"offset": 0.75, "color": "#1a1a1a"}, {"offset": 0.8125, "color": "#1a1a1a"}, {"offset": 0.8125, "color": "#ffffff"}, {"offset": 0.875, "color": "#ffffff"},
                           {"offset": 0.875, "color": "#1a1a1a"}, {"offset": 0.9375, "color": "#1a1a1a"}, {"offset": 0.9375, "color": "#ffffff"}, {"offset": 1, "color": "#ffffff"}]}},
                         "encoding": {"y": {"field": "mean", "type": "quantitative"}}},
                        {"transform": [{"filter": "datum.group === 'Allergy rhinitis'"}],
                         "mark": {"type": "bar", "strokeWidth": 0, "blend": "difference", "fill": {"gradient": "linear", "x1": 0, "y1": 0, "x2": 0, "y2": 1, "stops": [
                           {"offset": 0, "color": "#ffffff"}, {"offset": 0.03125, "color": "#ffffff"}, {"offset": 0.03125, "color": "rgba(255,255,255,0)"}, {"offset": 0.0625, "color": "rgba(255,255,255,0)"},
                           {"offset": 0.0625, "color": "#ffffff"}, {"offset": 0.09375, "color": "#ffffff"}, {"offset": 0.09375, "color": "rgba(255,255,255,0)"}, {"offset": 0.125, "color": "rgba(255,255,255,0)"},
                           {"offset": 0.125, "color": "#ffffff"}, {"offset": 0.15625, "color": "#ffffff"}, {"offset": 0.15625, "color": "rgba(255,255,255,0)"}, {"offset": 0.1875, "color": "rgba(255,255,255,0)"},
                           {"offset": 0.1875, "color": "#ffffff"}, {"offset": 0.21875, "color": "#ffffff"}, {"offset": 0.21875, "color": "rgba(255,255,255,0)"}, {"offset": 0.25, "color": "rgba(255,255,255,0)"},
                           {"offset": 0.25, "color": "#ffffff"}, {"offset": 0.28125, "color": "#ffffff"}, {"offset": 0.28125, "color": "rgba(255,255,255,0)"}, {"offset": 0.3125, "color": "rgba(255,255,255,0)"},
                           {"offset": 0.3125, "color": "#ffffff"}, {"offset": 0.34375, "color": "#ffffff"}, {"offset": 0.34375, "color": "rgba(255,255,255,0)"}, {"offset": 0.375, "color": "rgba(255,255,255,0)"},
                           {"offset": 0.375, "color": "#ffffff"}, {"offset": 0.40625, "color": "#ffffff"}, {"offset": 0.40625, "color": "rgba(255,255,255,0)"}, {"offset": 0.4375, "color": "rgba(255,255,255,0)"},
                           {"offset": 0.4375, "color": "#ffffff"}, {"offset": 0.46875, "color": "#ffffff"}, {"offset": 0.46875, "color": "rgba(255,255,255,0)"}, {"offset": 0.5, "color": "rgba(255,255,255,0)"},
                           {"offset": 0.5, "color": "#ffffff"}, {"offset": 0.53125, "color": "#ffffff"}, {"offset": 0.53125, "color": "rgba(255,255,255,0)"}, {"offset": 0.5625, "color": "rgba(255,255,255,0)"},
                           {"offset": 0.5625, "color": "#ffffff"}, {"offset": 0.59375, "color": "#ffffff"}, {"offset": 0.59375, "color": "rgba(255,255,255,0)"}, {"offset": 0.625, "color": "rgba(255,255,255,0)"},
                           {"offset": 0.625, "color": "#ffffff"}, {"offset": 0.65625, "color": "#ffffff"}, {"offset": 0.65625, "color": "rgba(255,255,255,0)"}, {"offset": 0.6875, "color": "rgba(255,255,255,0)"},
                           {"offset": 0.6875, "color": "#ffffff"}, {"offset": 0.71875, "color": "#ffffff"}, {"offset": 0.71875, "color": "rgba(255,255,255,0)"}, {"offset": 0.75, "color": "rgba(255,255,255,0)"},
                           {"offset": 0.75, "color": "#ffffff"}, {"offset": 0.78125, "color": "#ffffff"}, {"offset": 0.78125, "color": "rgba(255,255,255,0)"}, {"offset": 0.8125, "color": "rgba(255,255,255,0)"},
                           {"offset": 0.8125, "color": "#ffffff"}, {"offset": 0.84375, "color": "#ffffff"}, {"offset": 0.84375, "color": "rgba(255,255,255,0)"}, {"offset": 0.875, "color": "rgba(255,255,255,0)"},
                           {"offset": 0.875, "color": "#ffffff"}, {"offset": 0.90625, "color": "#ffffff"}, {"offset": 0.90625, "color": "rgba(255,255,255,0)"}, {"offset": 0.9375, "color": "rgba(255,255,255,0)"},
                           {"offset": 0.9375, "color": "#ffffff"}, {"offset": 0.96875, "color": "#ffffff"}, {"offset": 0.96875, "color": "rgba(255,255,255,0)"}, {"offset": 1, "color": "rgba(255,255,255,0)"}]}},
                         "encoding": {"y": {"field": "mean", "type": "quantitative"}}},
                        {"mark": {"type": "bar", "fill": "transparent", "stroke": "#000", "strokeWidth": 3}, "encoding": {"y": {"field": "mean", "type": "quantitative"}}},
                        {"data": {"values": [{}]}, "mark": {"type": "rule", "color": "#555", "strokeWidth": 1.5}, "encoding": {"x": {"datum": "Normal group"}, "x2": {"datum": "Allergy rhinitis"}, "y": {"datum": 109.4}}},
                        {"data": {"values": [{}]}, "mark": {"type": "rule", "color": "#555", "strokeWidth": 1.5}, "encoding": {"x": {"datum": "Normal group"}, "y": {"datum": 109.4}, "y2": {"datum": 77.3}}},
                        {"data": {"values": [{}]}, "mark": {"type": "rule", "color": "#555", "strokeWidth": 1.5}, "encoding": {"x": {"datum": "Allergy rhinitis"}, "y": {"datum": 109.4}, "y2": {"datum": 105}}},
                        {"data": {"values": [{}]}, "mark": {"type": "text", "font": "Liberation Serif", "fontSize": 18, "fontWeight": "bold", "baseline": "middle", "dy": 4}, "encoding": {"x": {"datum": "Normal group", "bandPosition": 1.27}, "y": {"datum": 112.6}, "text": {"value": "**"}}},
                        {"data": {"values": [{}]}, "mark": {"type": "text", "font": "Liberation Serif", "fontSize": 22, "fontWeight": "bold", "fontStyle": "italic", "align": "left", "baseline": "middle", "dx": -36}, "encoding": {"x": {"datum": "Normal group", "bandPosition": 1.27}, "y": {"datum": 121.9}, "text": {"value": "p"}}},
                        {"data": {"values": [{}]}, "mark": {"type": "text", "font": "Liberation Serif", "fontSize": 22, "fontWeight": "bold", "align": "left", "baseline": "middle", "dx": -25}, "encoding": {"x": {"datum": "Normal group", "bandPosition": 1.27}, "y": {"datum": 121.9}, "text": {"value": "=0.006"}}}
                      ]
                    }
                  ],
                  "spacing": 338, "bounds": "flush",
                  "resolve": {"scale": {"fill": "independent"}, "legend": {"fill": "independent"}}
                }
              ],
              "spacing": 155, "bounds": "flush",
              "resolve": {"scale": {"fill": "independent"}, "legend": {"fill": "independent"}}
            }
          ],
          "spacing": 441, "bounds": "flush",
          "resolve": {"scale": {"fill": "independent"}, "legend": {"fill": "independent"}}
        }
      ],
      "spacing": 401, "bounds": "flush",
      "resolve": {"scale": {"fill": "independent"}, "legend": {"fill": "independent"}}
    }
  ]
}
